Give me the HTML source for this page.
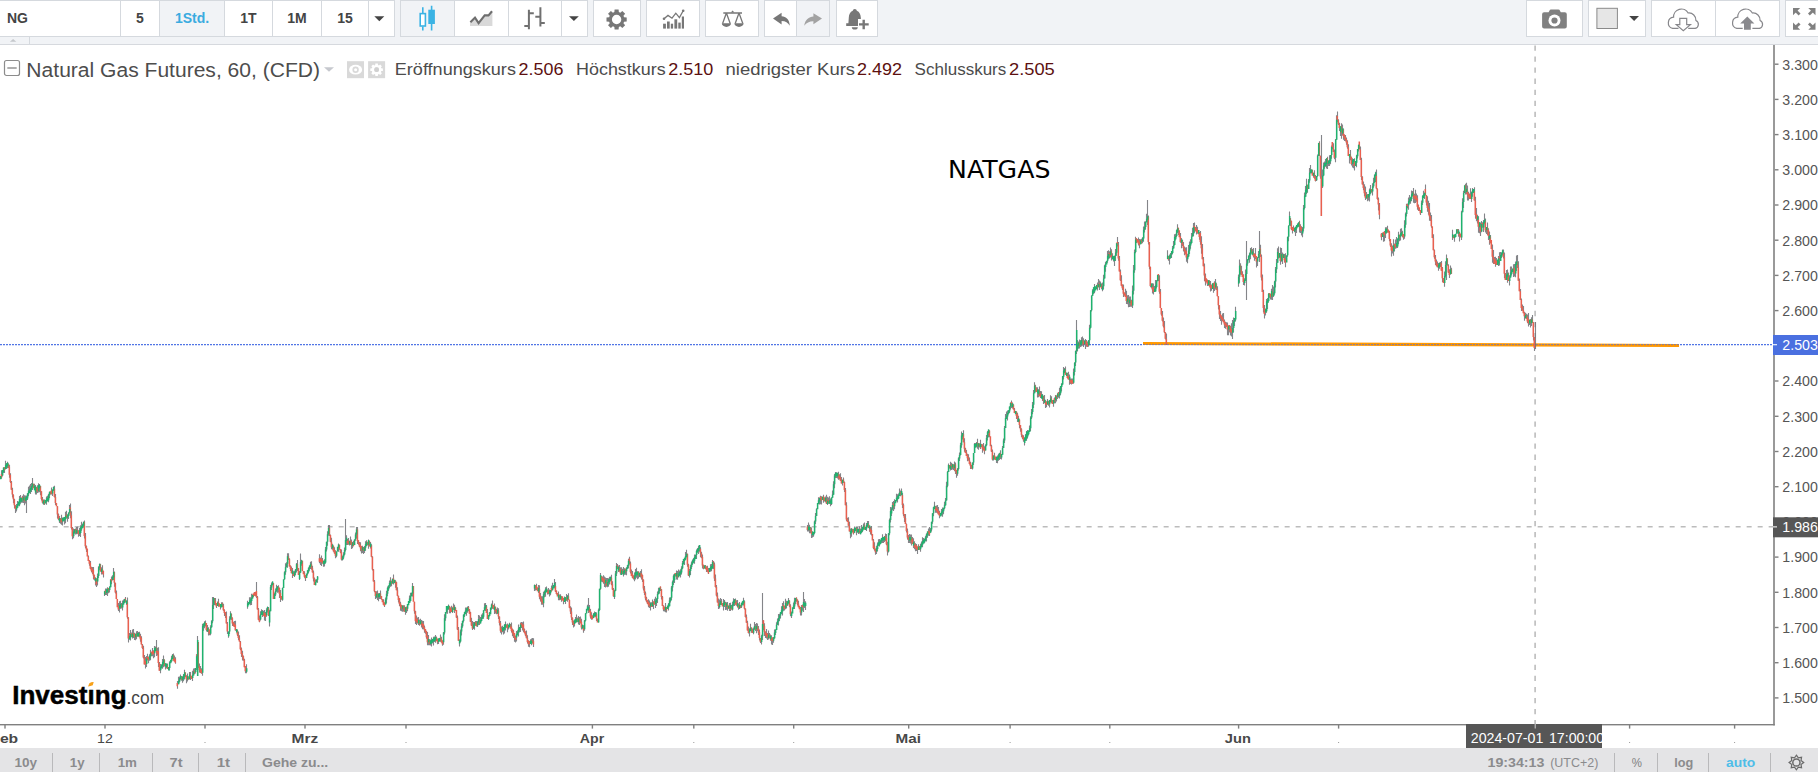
<!DOCTYPE html>
<html lang="de">
<head>
<meta charset="utf-8">
<title>NG – Natural Gas Futures</title>
<style>
*{box-sizing:border-box;margin:0;padding:0}
html,body{width:1818px;height:772px;overflow:hidden;background:#fff}
body{position:relative;font-family:"Liberation Sans",sans-serif;color:#555}
#tb{position:absolute;left:0;top:0;width:1818px;height:45px;background:#f1f3f6;border-bottom:1px solid #d6d9de}
.grp{position:absolute;top:0;height:37px;background:#fff;border:1px solid #d5d9de;}
.dv{position:absolute;top:0;width:1px;height:35px;background:#d5d9de}
.act{position:absolute;top:0;height:35px;background:#f1f3f6}
.tx{position:absolute;top:0;height:35px;line-height:35px;font-weight:bold;font-size:14px;color:#444;text-align:center}
#tab{position:absolute;left:0;top:37px;width:30px;height:8px;border-right:1px solid #d5d9de}
#bb{position:absolute;left:0;top:748px;width:1818px;height:24px;background:#e4e4e6}
.bt{position:absolute;top:0;height:24px;line-height:26px;font-weight:bold;font-size:13px;color:#8a8a8a;text-align:center}
.bs{position:absolute;top:5px;width:1px;height:19px;background:#b9b9bb}
svg{position:absolute;left:0;top:0}
</style>
</head>
<body>
<div id="tb">
  <div class="grp" style="left:-1px;width:396px">
    <div class="act" style="left:160px;width:64px"></div>
    <div class="dv" style="left:120px"></div><div class="dv" style="left:159px"></div><div class="dv" style="left:224px"></div><div class="dv" style="left:272px"></div><div class="dv" style="left:321px"></div><div class="dv" style="left:368px"></div>
    <div class="tx" style="left:7px;text-align:left">NG</div>
    <div class="tx" style="left:121px;width:38px">5</div>
    <div class="tx" style="left:160px;width:64px;color:#3aabe0">1Std.</div>
    <div class="tx" style="left:225px;width:47px">1T</div>
    <div class="tx" style="left:273px;width:48px">1M</div>
    <div class="tx" style="left:322px;width:46px">15</div>
  </div>
  <div class="grp" style="left:400px;width:188px">
    <div class="act" style="left:0;width:53px"></div>
    <div class="dv" style="left:53px"></div><div class="dv" style="left:107px"></div><div class="dv" style="left:160px"></div>
  </div>
  <div class="grp" style="left:593px;width:48px"></div>
  <div class="grp" style="left:646px;width:54px"></div>
  <div class="grp" style="left:705px;width:54px"></div>
  <div class="grp" style="left:764px;width:66px">
    <div class="act" style="left:32px;width:32px"></div>
    <div class="dv" style="left:31px"></div>
  </div>
  <div class="grp" style="left:836px;width:42px"></div>
  <div class="grp" style="left:1526px;width:57px"></div>
  <div class="grp" style="left:1588px;width:58px"></div>
  <div class="grp" style="left:1651px;width:129px">
    <div class="dv" style="left:63px"></div>
  </div>
  <div class="grp" style="left:1785px;width:40px"></div>
  <div id="tab"></div>
</div>

<div id="bb">
  <div class="bs" style="left:52px"></div><div class="bs" style="left:99px"></div><div class="bs" style="left:152px"></div><div class="bs" style="left:198px"></div><div class="bs" style="left:245px"></div>
  <div class="bs" style="left:1614px"></div><div class="bs" style="left:1657px"></div><div class="bs" style="left:1708px"></div><div class="bs" style="left:1770px"></div>
</div>

<svg width="1818" height="772" viewBox="0 0 1818 772">
<!-- ICONS -->
<path d="M374.3 16.3h10l-5 5z" fill="#444"/>
<path d="M569 16.2h9.8l-4.9 4.8z" fill="#444"/>
<path d="M1629.2 16.1h9.8l-4.9 4.9z" fill="#444"/>
<path d="M9.9 41.8h6.4l-3.2-2.9z" fill="#c5c8cc"/>
<g stroke="#3bb3e4" stroke-width="1.6" fill="none"><path d="M422.8 7.2V13.2M422.8 26.4V30.6M431.6 5.7V30.6"/><rect x="420.2" y="13.6" width="5.2" height="12.4" fill="#fff"/></g><rect x="428.3" y="9.7" width="6.6" height="14.3" fill="#3bb3e4"/>
<path d="M470 22.4L475 17.6L478.6 23.1L484.7 15.4H488.5L492.4 11V26H470z" fill="#d9d9d9"/><path d="M470.4 22.3L475 17.6L478.6 23.1L484.7 15.4H488.5L492 11.3" stroke="#6e6e6e" stroke-width="2.1" fill="none" stroke-linejoin="miter"/>
<path d="M528.9 9.7V29.2M524.3 25.9H528.9M528.9 13.2H533.8M540.4 7.2V26.6M535.3 16.8H540.4M540.4 23.1H544.8" stroke="#707070" stroke-width="2" fill="none"/>
<path d="M614.37 12.03L614.59 9.40L618.61 9.40L618.83 12.03L620.30 12.64L622.32 10.94L625.16 13.78L623.46 15.80L624.07 17.27L626.70 17.49L626.70 21.51L624.07 21.73L623.46 23.20L625.16 25.22L622.32 28.06L620.30 26.36L618.83 26.97L618.61 29.60L614.59 29.60L614.37 26.97L612.90 26.36L610.88 28.06L608.04 25.22L609.74 23.20L609.13 21.73L606.50 21.51L606.50 17.49L609.13 17.27L609.74 15.80L608.04 13.78L610.88 10.94L612.90 12.64ZM611.90 19.50a4.70 4.70 0 1 0 9.40 0a4.70 4.70 0 1 0 -9.40 0z" fill="#777" fill-rule="evenodd"/>
<g fill="#777"><rect x="663.1" y="23.7" width="2.8" height="4.9"/><rect x="667" y="21.5" width="2.7" height="7.1"/><rect x="670.8" y="23.7" width="2.3" height="4.9"/><rect x="674.4" y="19.3" width="2.8" height="9.3"/><rect x="678.3" y="22.6" width="2.4" height="6.0"/><rect x="681.8" y="16.5" width="2.2" height="12.1"/><circle cx="664" cy="18.7" r="1.3"/><circle cx="683.2" cy="10.8" r="1.3"/></g><path d="M664 18.7L668 15.4L672 18.2L675.8 13.2L679.4 17.6L683.2 10.8" stroke="#777" stroke-width="1.3" fill="none"/>
<g stroke="#777" stroke-width="1.3" fill="none"><path d="M723.3 13H742M726.4 13L722.6 23.5M726.4 13L730.2 23.5M739 13L735.2 23.5M739 13L742.8 23.5"/></g><path d="M730.8 12.4L732.6 10.6L734.4 12.4z" fill="#777"/><path d="M721.8 23.3h9.2a4.6 3.6 0 0 1 -9.2 0zM734.4 23.3h9.2a4.6 3.6 0 0 1 -9.2 0z" fill="#777"/>
<path d="M773 18.6L781.6 12.8V16.2C786 16.4 789.6 19.5 789.8 25.8C788 22.6 785.6 21.2 781.6 21.1V24.4z" fill="#777"/>
<path d="M822 18.6L813.4 13.2V16.4C809 16.6 805 19.5 804.2 25.8C806.4 22.6 809.2 21.3 813.4 21.2V24.2z" fill="#a3a3a3"/>
<path d="M854.8 9C856 9 856.6 9.8 856.8 10.8C859.6 11.8 860.6 14.6 860.8 17.5L861.2 23.3H863.4V26H846.2V23.3H848.4L848.8 17.5C849 14.6 850 11.8 852.8 10.8C853 9.8 853.6 9 854.8 9zM851.8 27.2H857.8A3 2.4 0 0 1 851.8 27.2z" fill="#777"/><path d="M858 19H869.6V29.8H858z" fill="#fff"/><path d="M863.7 19.8V29.3M859 24.4H868.7" stroke="#777" stroke-width="2.4"/>
<path d="M1544.1 12.2H1548.6L1550 9.8Q1550.3 9.4 1551 9.4H1558.4Q1559.1 9.4 1559.4 9.8L1560.8 12.2H1564.8Q1566.8 12.2 1566.8 14.2V26.5Q1566.8 28.5 1564.8 28.5H1544.1Q1542.1 28.5 1542.1 26.5V14.2Q1542.1 12.2 1544.1 12.2z" fill="#808080"/><circle cx="1554.5" cy="20.5" r="6" fill="#fff"/><circle cx="1554.5" cy="20.5" r="3.1" fill="#808080"/>
<rect x="1596.9" y="8.3" width="20.5" height="20.2" fill="#e6e6e6" stroke="#8a8a8a" stroke-width="1"/>
<g transform="translate(0,0)"><path d="M1678.5 28.4H1672.6A5.7 5.7 0 0 1 1673.6 17.2A7.8 7.8 0 0 1 1688.2 13A7 7 0 0 1 1695.9 20.5A4.2 4.2 0 0 1 1695.2 28.4H1688.2" fill="none" stroke="#87878b" stroke-width="1.2"/></g>
<path d="M1679.8 18.3H1686.7V24.7H1690.4L1683.3 30.6L1676.3 24.7H1679.8z" fill="#fff" stroke="#87878b" stroke-width="1.2"/>
<g transform="translate(64.2,0)"><path d="M1678.5 28.4H1672.6A5.7 5.7 0 0 1 1673.6 17.2A7.8 7.8 0 0 1 1688.2 13A7 7 0 0 1 1695.9 20.5A4.2 4.2 0 0 1 1695.2 28.4H1688.2" fill="none" stroke="#87878b" stroke-width="1.2"/></g>
<path d="M1747.3 16.6L1754.4 23.6H1750.8V29.7H1744V23.6H1740.2z" fill="#8a8a8e"/>
<path d="M1793 8L1800.2 8L1793 15.2z" fill="#808080"/><path d="M1795 10L1799.6 14.4" stroke="#808080" stroke-width="2.7"/>
<path d="M1815.5 8L1808.3 8L1815.5 15.2z" fill="#808080"/><path d="M1813.5 10L1808.9 14.4" stroke="#808080" stroke-width="2.7"/>
<path d="M1793 29.8L1800.2 29.8L1793 22.6z" fill="#808080"/><path d="M1795 27.8L1799.6 23.4" stroke="#808080" stroke-width="2.7"/>
<path d="M1815.5 29.8L1808.3 29.8L1815.5 22.6z" fill="#808080"/><path d="M1813.5 27.8L1808.9 23.4" stroke="#808080" stroke-width="2.7"/>
<path d="M1796.40 755.20L1798.31 757.88L1801.56 757.34L1801.02 760.59L1803.70 762.50L1801.02 764.41L1801.56 767.66L1798.31 767.12L1796.40 769.80L1794.49 767.12L1791.24 767.66L1791.78 764.41L1789.10 762.50L1791.78 760.59L1791.24 757.34L1794.49 757.88Z" fill="none" stroke="#6a6a6a" stroke-width="1.2" stroke-linejoin="miter"/><circle cx="1796.4" cy="762.5" r="3.6" fill="#e4e4e6" stroke="#6a6a6a" stroke-width="1.5"/>
<!-- CHART -->
<rect x="1773.2" y="45" width="1.6" height="680.4" fill="#808080"/>
<rect x="0" y="724" width="1774.8" height="1.4" fill="#808080"/>
<rect x="1774.8" y="63.5" width="3.7" height="1.4" fill="#808080"/>
<rect x="1774.8" y="98.7" width="3.7" height="1.4" fill="#808080"/>
<rect x="1774.8" y="133.9" width="3.7" height="1.4" fill="#808080"/>
<rect x="1774.8" y="169.1" width="3.7" height="1.4" fill="#808080"/>
<rect x="1774.8" y="204.3" width="3.7" height="1.4" fill="#808080"/>
<rect x="1774.8" y="239.5" width="3.7" height="1.4" fill="#808080"/>
<rect x="1774.8" y="274.7" width="3.7" height="1.4" fill="#808080"/>
<rect x="1774.8" y="309.9" width="3.7" height="1.4" fill="#808080"/>
<rect x="1774.8" y="345.1" width="3.7" height="1.4" fill="#808080"/>
<rect x="1774.8" y="380.3" width="3.7" height="1.4" fill="#808080"/>
<rect x="1774.8" y="415.6" width="3.7" height="1.4" fill="#808080"/>
<rect x="1774.8" y="450.8" width="3.7" height="1.4" fill="#808080"/>
<rect x="1774.8" y="486.0" width="3.7" height="1.4" fill="#808080"/>
<rect x="1774.8" y="521.2" width="3.7" height="1.4" fill="#808080"/>
<rect x="1774.8" y="556.4" width="3.7" height="1.4" fill="#808080"/>
<rect x="1774.8" y="591.6" width="3.7" height="1.4" fill="#808080"/>
<rect x="1774.8" y="626.8" width="3.7" height="1.4" fill="#808080"/>
<rect x="1774.8" y="662.0" width="3.7" height="1.4" fill="#808080"/>
<rect x="1774.8" y="697.2" width="3.7" height="1.4" fill="#808080"/>
<g font-family="Liberation Sans, sans-serif" font-size="14.2" fill="#555"><text x="1782.3" y="69.5">3.300</text><text x="1782.3" y="104.7">3.200</text><text x="1782.3" y="139.9">3.100</text><text x="1782.3" y="175.1">3.000</text><text x="1782.3" y="210.3">2.900</text><text x="1782.3" y="245.5">2.800</text><text x="1782.3" y="280.7">2.700</text><text x="1782.3" y="315.9">2.600</text><text x="1782.3" y="351.1">2.500</text><text x="1782.3" y="386.3">2.400</text><text x="1782.3" y="421.6">2.300</text><text x="1782.3" y="456.8">2.200</text><text x="1782.3" y="492.0">2.100</text><text x="1782.3" y="527.2">2.000</text><text x="1782.3" y="562.4">1.900</text><text x="1782.3" y="597.6">1.800</text><text x="1782.3" y="632.8">1.700</text><text x="1782.3" y="668.0">1.600</text><text x="1782.3" y="703.2">1.500</text></g>
<rect x="4.3" y="725" width="1.4" height="3.6" fill="#808080"/>
<rect x="104.3" y="725" width="1.4" height="3.6" fill="#808080"/>
<rect x="204.3" y="725" width="1.4" height="3.6" fill="#808080"/>
<rect x="304.3" y="725" width="1.4" height="3.6" fill="#808080"/>
<rect x="405.3" y="725" width="1.4" height="3.6" fill="#808080"/>
<rect x="591.7" y="725" width="1.4" height="3.6" fill="#808080"/>
<rect x="693.1" y="725" width="1.4" height="3.6" fill="#808080"/>
<rect x="793.0" y="725" width="1.4" height="3.6" fill="#808080"/>
<rect x="908.0" y="725" width="1.4" height="3.6" fill="#808080"/>
<rect x="1009.4" y="725" width="1.4" height="3.6" fill="#808080"/>
<rect x="1109.1" y="725" width="1.4" height="3.6" fill="#808080"/>
<rect x="1237.9" y="725" width="1.4" height="3.6" fill="#808080"/>
<rect x="1337.9" y="725" width="1.4" height="3.6" fill="#808080"/>
<rect x="1628.9" y="725" width="1.4" height="3.6" fill="#808080"/>
<rect x="1733.9" y="725" width="1.4" height="3.6" fill="#808080"/>
<rect x="204.5" y="742" width="1" height="1" fill="#999"/>
<rect x="405.5" y="742" width="1" height="1" fill="#999"/>
<rect x="693.3" y="742" width="1" height="1" fill="#999"/>
<rect x="793.2" y="742" width="1" height="1" fill="#999"/>
<rect x="1009.6" y="742" width="1" height="1" fill="#999"/>
<rect x="1109.3" y="742" width="1" height="1" fill="#999"/>
<rect x="1338.1" y="742" width="1" height="1" fill="#999"/>
<rect x="1629.1" y="742" width="1" height="1" fill="#999"/>
<rect x="1734.1" y="742" width="1" height="1" fill="#999"/>
<g font-family="Liberation Sans, sans-serif" font-size="13" fill="#484848"><text x="-9.7" y="743" font-weight="bold" textLength="27.9" lengthAdjust="spacingAndGlyphs">Feb</text><text x="97.0" y="743" textLength="15.8" lengthAdjust="spacingAndGlyphs">12</text><text x="291.6" y="743" font-weight="bold" textLength="26.6" lengthAdjust="spacingAndGlyphs">Mrz</text><text x="579.8" y="743" font-weight="bold" textLength="24.4" lengthAdjust="spacingAndGlyphs">Apr</text><text x="895.6" y="743" font-weight="bold" textLength="25.4" lengthAdjust="spacingAndGlyphs">Mai</text><text x="1224.8" y="743" font-weight="bold" textLength="26.1" lengthAdjust="spacingAndGlyphs">Jun</text></g>
<path d="M0 526.8H1773" stroke="#bcbcbc" stroke-width="1.4" stroke-dasharray="5 6" stroke-dashoffset="2.34"/>
<path d="M1535.1 45.4V724" stroke="#b8b8b8" stroke-width="1.5" stroke-dasharray="5.3 5.76"/>
<path d="M1143 343.5L1679 345.5" stroke="#ff9800" stroke-width="3.2"/>
<path d="M0 344.6H1143M1680 344.6H1773" stroke="#5075e5" stroke-width="1.1" stroke-dasharray="2 1"/>
<path d="M1143 344.6H1680" stroke="#5670d8" stroke-opacity="0.85" stroke-width="0.85" stroke-dasharray="2 1"/>
<g>
<path d="M1.5 470.3V478.7M2.5 469.9V476.4M3.5 467.4V473.0M4.5 467.2V473.1M5.5 460.7V469.4M6.5 463.2V468.9M7.5 461.8V468.2M8.5 463.7V468.1M9.5 464.8V477.7M10.5 473.2V482.9M11.5 480.9V489.7M12.5 487.7V497.5M13.5 494.5V503.3M14.5 498.8V508.3M15.5 505.3V513.1M16.5 504.0V511.4M17.5 500.9V507.8M19.5 496.0V506.3M20.5 495.1V503.8M21.5 497.8V502.8M22.5 495.8V502.7M23.5 494.2V503.1M24.5 495.3V505.2M25.5 495.6V503.5M26.5 495.5V500.9M27.5 493.1V500.1M28.5 486.8V496.2M29.5 485.5V492.9M30.5 484.1V494.0M31.5 483.1V492.0M32.5 482.4V489.8M34.5 483.7V490.3M35.5 485.0V494.5M36.5 486.9V494.4M37.5 485.2V493.1M38.5 483.3V492.4M39.5 483.9V492.3M40.5 485.9V495.3M41.5 491.3V500.5M42.5 497.0V503.6M43.5 499.4V504.8M44.5 499.5V504.9M46.5 496.4V504.8M47.5 495.8V501.2M48.5 493.7V502.2M49.5 491.8V498.2M51.5 487.6V494.5M52.5 489.4V495.9M53.5 486.5V490.9M54.5 485.7V497.4M55.5 493.9V504.9M57.5 506.3V518.5M58.5 513.5V520.2M59.5 516.0V522.9M60.5 518.3V523.7M61.5 514.8V524.7M62.5 517.6V525.5M63.5 517.2V521.3M64.5 517.0V524.4M65.5 511.8V523.3M66.5 510.8V518.2M67.5 514.4V521.8M68.5 512.4V519.0M69.5 505.0V513.4M70.5 503.5V518.3M71.5 511.3V529.4M72.5 526.9V539.2M73.5 528.4V538.2M74.5 529.2V533.8M75.5 528.6V534.5M76.5 526.9V534.3M77.5 526.8V533.7M78.5 530.3V536.7M79.5 528.1V535.9M80.5 525.2V537.1M81.5 521.8V530.7M82.5 523.5V527.9M83.5 521.4V527.2M84.5 520.4V538.5M85.5 533.0V548.2M86.5 545.6V552.0M88.5 555.6V561.1M89.5 560.3V565.7M90.5 560.9V569.2M91.5 566.8V572.2M92.5 567.0V574.0M93.5 566.9V579.4M94.5 574.7V580.4M95.5 577.2V585.6M96.5 578.4V586.9M97.5 573.6V585.4M98.5 566.3V578.1M99.5 563.6V570.0M100.5 563.7V571.4M101.5 567.2V574.6M102.5 565.3V574.2M103.5 570.7V577.4M104.5 591.2V596.1M105.5 588.6V595.0M106.5 588.5V594.9M107.5 587.2V596.1M108.5 588.3V593.2M109.5 586.6V592.5M110.5 579.2V587.2M111.5 576.4V584.3M112.5 575.2V580.6M113.5 568.1V580.0M114.5 571.6V586.7M115.5 582.7V593.4M116.5 590.4V599.1M118.5 603.1V611.0M119.5 601.2V612.6M120.5 600.8V608.7M121.5 603.1V608.6M122.5 600.5V610.6M123.5 599.6V604.5M124.5 599.1V603.0M125.5 597.1V602.5M126.5 600.5V604.9M127.5 597.4V618.7M128.5 617.2V642.5M129.5 633.0V639.4M130.5 630.0V640.4M131.5 632.6V637.0M132.5 629.5V638.4M133.5 629.0V637.9M134.5 632.7V640.1M135.5 633.8V640.2M136.5 631.3V639.2M137.5 631.1V636.5M138.5 632.1V636.5M139.5 631.8V637.3M140.5 633.8V641.7M141.5 636.2V644.5M142.5 644.0V648.9M143.5 645.8V658.6M144.5 655.1V664.6M145.5 657.1V668.6M146.5 656.1V666.9M147.5 653.8V660.2M148.5 656.4V663.3M149.5 654.2V660.7M150.5 649.8V660.2M151.5 651.9V656.3M152.5 647.9V656.3M153.5 650.3V658.2M154.5 646.0V657.2M155.5 646.5V650.9M156.5 645.0V656.1M157.5 647.7V655.6M158.5 647.3V667.0M159.5 662.0V670.7M160.5 664.0V673.3M161.5 664.5V668.4M162.5 659.1V668.8M163.5 655.6V667.2M164.5 659.6V666.4M165.5 663.2V669.6M166.5 663.4V668.3M167.5 663.6V669.0M169.5 661.3V670.5M171.5 655.8V662.2M172.5 653.9V659.1M173.5 653.4V660.5M174.5 655.6V661.5M175.5 657.3V663.7M177.5 680.9V688.8M178.5 676.8V684.2M179.5 676.6V682.5M180.5 674.4V679.3M181.5 675.9V680.8M182.5 676.3V682.7M183.5 673.9V681.3M184.5 669.8V679.5M186.5 675.3V683.2M187.5 673.5V681.4M189.5 672.1V679.2M190.5 672.0V679.9M192.5 670.7V681.1M193.5 668.6V675.6M194.5 668.2V674.1M195.5 667.9V673.5M196.5 654.2V669.9M197.5 652.5V659.4M199.5 663.4V672.6M200.5 666.1V673.0M201.5 668.3V673.7M202.5 623.7V675.7M203.5 623.4V630.8M204.5 621.3V628.2M205.5 620.5V626.4M206.5 622.9V631.6M207.5 625.0V631.9M208.5 627.2V635.6M209.5 629.4V635.2M210.5 625.2V635.2M211.5 620.2V627.7M212.5 604.1V623.2M213.5 597.0V609.1M214.5 598.0V605.3M215.5 597.9V605.3M216.5 603.0V607.9M217.5 601.5V606.0M218.5 598.8V606.7M220.5 604.1V609.5M221.5 602.3V607.2M222.5 602.3V606.7M223.5 603.7V610.8M224.5 609.5V615.9M225.5 612.1V618.1M226.5 611.6V623.5M227.5 622.0V634.1M228.5 631.5V637.7M229.5 616.3V634.0M230.5 611.3V619.8M231.5 613.8V620.0M232.5 617.5V626.0M233.5 621.8V626.2M234.5 621.0V626.9M235.5 620.7V630.8M237.5 629.7V636.1M238.5 631.5V639.9M239.5 635.2V641.4M240.5 640.9V650.2M241.5 647.6V656.9M242.5 650.7V660.6M243.5 655.5V660.8M244.5 658.8V667.2M245.5 666.0V673.2M246.5 664.3V673.2M247.5 600.8V608.7M249.5 597.2V604.1M250.5 597.3V605.2M251.5 593.7V605.1M252.5 594.6V598.5M254.5 591.9V595.8M255.5 591.9V596.3M256.5 589.5V597.6M257.5 596.1V609.5M258.5 608.0V620.2M259.5 615.4V622.3M260.5 611.2V620.4M261.5 609.3V614.7M262.5 610.0V616.9M263.5 610.8V615.7M264.5 610.1V620.5M265.5 612.1V621.0M266.5 608.2V616.7M267.5 606.5V612.4M268.5 606.9V616.1M269.5 609.8V626.5M270.5 585.1V611.3M271.5 582.6V590.0M272.5 581.6V585.5M274.5 592.6V598.9M275.5 588.5V595.9M276.5 584.8V591.8M277.5 585.9V592.8M278.5 585.2V592.6M279.5 587.7V597.9M280.5 590.0V602.1M282.5 587.6V600.8M284.5 571.2V579.7M285.5 563.2V574.7M286.5 562.2V567.2M287.5 553.2V567.7M288.5 553.2V560.1M289.5 558.3V566.5M290.5 565.6V571.0M291.5 566.4V573.2M292.5 568.0V577.9M293.5 571.2V576.0M294.5 570.8V577.0M295.5 569.1V575.0M296.5 563.1V572.3M297.5 560.1V571.1M299.5 570.9V580.0M300.5 561.5V572.9M301.5 559.8V565.7M304.5 571.3V577.7M305.5 575.2V581.1M307.5 570.2V575.6M308.5 567.3V573.2M309.5 565.4V570.8M310.5 561.7V569.1M311.5 561.3V569.8M312.5 565.8V572.4M313.5 570.4V581.4M314.5 577.4V585.0M315.5 579.4V585.3M317.5 575.9V582.8M319.5 554.3V563.2M320.5 557.6V565.0M321.5 555.6V566.0M322.5 558.0V563.4M323.5 560.8V566.7M324.5 559.2V566.6M325.5 547.0V563.5M326.5 541.7V551.5M327.5 531.3V545.7M328.5 525.1V535.8M329.5 525.1V536.0M330.5 534.5V542.3M331.5 537.8V549.2M332.5 543.8V549.7M333.5 545.7V551.8M334.5 547.3V553.7M335.5 550.2V558.3M336.5 551.4V557.3M338.5 543.4V551.8M339.5 544.7V549.7M340.5 548.9V553.3M341.5 549.5V560.4M342.5 555.5V560.4M343.5 552.2V559.1M344.5 547.4V555.4M345.5 539.5V551.4M346.5 535.2V545.1M347.5 539.0V544.9M348.5 538.1V544.5M349.5 540.7V545.6M350.5 536.6V545.0M351.5 539.6V549.0M352.5 541.9V548.3M353.5 540.8V546.2M355.5 532.6V540.8M356.5 527.1V538.6M357.5 527.1V544.0M358.5 540.3V544.7M359.5 542.1V547.0M360.5 542.3V551.2M361.5 546.0V553.4M362.5 545.7V553.1M363.5 547.1V554.0M364.5 545.9V552.9M365.5 541.3V550.7M366.5 540.3V546.2M368.5 539.6V548.7M370.5 542.1V548.5M371.5 544.3V557.3M372.5 556.3V570.6M373.5 569.1V581.4M374.5 579.9V592.3M375.5 591.3V599.1M376.5 591.3V598.2M377.5 590.6V600.0M378.5 593.3V601.2M379.5 593.1V599.0M380.5 590.5V598.9M381.5 595.9V599.8M383.5 599.3V604.7M384.5 602.5V606.9M385.5 597.4V604.5M386.5 590.8V603.4M387.5 586.5V596.3M388.5 585.4V590.9M389.5 580.4V588.3M390.5 577.3V586.7M391.5 580.8V586.2M392.5 578.5V583.5M393.5 574.5V584.4M395.5 580.4V587.8M396.5 581.7V590.2M397.5 587.2V596.2M398.5 595.7V602.5M399.5 598.2V606.1M400.5 601.8V610.7M401.5 604.8V611.2M402.5 605.4V611.8M403.5 605.5V611.5M404.5 605.2V611.8M405.5 607.0V614.8M406.5 606.7V613.1M407.5 604.0V611.3M409.5 595.6V603.1M410.5 592.7V601.5M411.5 592.4V596.3M412.5 583.0V596.5M414.5 601.8V613.7M415.5 610.7V624.0M416.5 615.6V625.0M417.5 617.6V623.5M418.5 617.0V624.9M419.5 619.4V625.8M420.5 618.8V624.2M421.5 620.1V627.6M422.5 620.8V629.2M423.5 621.0V629.2M424.5 625.4V632.8M425.5 628.9V633.8M426.5 630.7V638.8M427.5 632.0V645.2M428.5 634.9V645.3M429.5 639.3V645.2M430.5 639.6V645.5M431.5 637.5V646.4M432.5 638.9V643.3M433.5 636.7V645.6M434.5 636.5V641.9M435.5 634.9V642.8M436.5 636.5V641.0M437.5 638.8V644.2M438.5 638.6V644.0M440.5 634.4V641.8M441.5 636.7V642.6M442.5 640.3V645.7M443.5 632.1V644.7M444.5 614.3V634.6M445.5 611.9V620.8M446.5 606.0V613.4M447.5 606.3V613.7M448.5 604.4V609.8M449.5 605.9V613.3M450.5 607.4V613.2M451.5 605.7V612.1M452.5 607.5V613.0M453.5 603.4V609.8M454.5 604.7V613.1M455.5 607.2V611.1M456.5 610.1V618.0M457.5 615.5V630.0M458.5 627.0V640.8M459.5 639.2V646.6M460.5 629.4V642.5M461.5 623.3V635.4M462.5 620.5V627.8M463.5 614.6V622.5M464.5 611.7V617.1M465.5 607.5V613.9M466.5 607.4V615.8M467.5 606.4V612.8M468.5 605.9V611.3M469.5 608.9V613.8M470.5 611.8V621.8M471.5 617.8V626.1M472.5 621.1V630.0M473.5 622.0V628.9M474.5 621.9V629.8M475.5 621.0V625.4M476.5 621.1V626.5M477.5 621.1V627.1M478.5 615.1V625.0M479.5 615.4V624.9M480.5 617.0V623.4M481.5 614.5V621.6M482.5 613.3V618.7M483.5 610.2V618.8M484.5 603.2V610.6M485.5 603.1V611.0M486.5 605.0V612.9M487.5 608.9V618.9M488.5 615.1V619.9M489.5 612.0V616.4M491.5 603.6V609.7M492.5 600.4V608.8M493.5 605.1V609.2M494.5 603.6V614.0M495.5 606.7V613.5M496.5 608.8V614.2M497.5 607.6V614.0M498.5 608.2V619.1M499.5 616.6V625.6M500.5 621.1V632.7M501.5 626.5V634.4M502.5 625.8V632.2M503.5 627.1V634.5M504.5 624.0V633.4M505.5 621.6V630.5M507.5 623.4V632.3M508.5 624.7V629.6M509.5 622.7V627.1M510.5 623.9V628.6M511.5 622.5V632.4M512.5 628.5V636.2M513.5 629.8V638.0M514.5 632.9V641.7M515.5 635.6V642.5M516.5 631.1V641.5M517.5 630.3V635.2M518.5 624.6V636.5M519.5 626.9V632.3M520.5 622.5V631.9M521.5 622.1V628.0M522.5 622.2V630.6M523.5 621.6V631.9M524.5 628.6V633.5M525.5 631.3V636.2M526.5 630.4V638.3M527.5 635.3V643.5M528.5 640.3V646.7M529.5 640.9V647.3M530.5 639.2V644.1M531.5 638.4V645.3M532.5 637.9V643.3M533.5 638.2V647.1M534.5 584.5V590.9M535.5 585.1V590.5M536.5 583.7V590.1M538.5 585.0V592.9M539.5 585.3V599.2M540.5 593.0V601.6M541.5 596.3V604.7M542.5 596.3V604.7M543.5 591.8V607.2M544.5 590.4V597.3M545.5 587.3V596.7M546.5 586.6V592.0M547.5 589.7V594.6M548.5 587.9V594.3M549.5 589.6V596.5M550.5 589.9V595.3M551.5 585.6V591.5M552.5 582.8V590.2M554.5 579.0V588.2M555.5 581.9V592.1M556.5 590.6V594.5M558.5 591.4V600.3M559.5 594.8V600.2M560.5 594.3V599.7M561.5 596.2V601.7M563.5 597.9V604.3M564.5 596.6V602.0M565.5 597.3V604.0M566.5 594.0V600.4M567.5 594.9V601.8M568.5 593.3V600.0M569.5 599.5V608.3M570.5 606.3V614.1M571.5 607.6V619.9M572.5 617.4V624.9M573.5 620.5V627.4M574.5 619.5V626.5M575.5 617.0V623.1M576.5 614.5V622.5M577.5 617.4V622.3M578.5 616.1V624.5M579.5 617.0V624.9M580.5 616.5V623.4M581.5 618.8V629.4M582.5 624.6V628.5M583.5 625.3V632.7M584.5 619.9V630.7M585.5 613.1V621.4M587.5 604.7V610.6M588.5 606.6V613.0M589.5 605.1V612.5M590.5 609.0V618.4M591.5 612.3V619.7M592.5 615.6V619.5M593.5 613.0V618.0M594.5 611.4V616.8M595.5 612.1V617.0M596.5 612.4V621.1M598.5 608.5V622.6M599.5 588.8V611.0M600.5 573.0V589.8M601.5 575.9V581.8M602.5 576.4V582.3M603.5 575.3V583.7M604.5 576.6V587.0M605.5 577.5V587.4M606.5 577.9V586.7M607.5 578.1V587.2M608.5 578.3V586.7M609.5 576.7V584.6M610.5 576.6V581.0M611.5 574.7V585.3M612.5 581.3V589.9M613.5 587.9V596.7M614.5 589.7V599.0M615.5 570.9V591.2M616.5 563.0V575.9M617.5 564.1V569.0M618.5 565.6V572.0M619.5 564.9V571.4M620.5 567.3V574.7M621.5 567.3V575.0M622.5 568.8V574.0M623.5 567.0V576.4M624.5 568.3V574.7M625.5 568.8V574.7M626.5 567.3V575.2M627.5 564.8V568.7M628.5 558.7V568.2M629.5 556.7V564.5M630.5 561.5V573.4M631.5 569.4V576.0M632.5 571.1V578.0M633.5 575.5V579.4M634.5 572.4V581.3M635.5 569.1V579.6M636.5 567.8V577.7M637.5 571.4V579.2M638.5 571.4V578.6M639.5 572.6V577.0M640.5 571.1V577.5M641.5 569.2V579.6M642.5 574.6V582.0M643.5 579.5V590.4M644.5 585.9V594.9M645.5 591.4V600.2M646.5 596.8V602.2M647.5 600.2V604.1M648.5 599.3V607.2M649.5 600.6V608.0M650.5 602.2V610.6M651.5 602.2V607.1M652.5 599.6V607.0M653.5 601.5V608.9M654.5 598.7V604.6M655.5 596.7V608.1M656.5 598.6V606.0M657.5 591.4V602.9M658.5 587.8V594.2M659.5 587.7V593.6M660.5 586.5V590.9M661.5 589.0V599.4M662.5 595.9V605.9M663.5 605.2V611.2M664.5 606.7V611.6M665.5 602.9V612.3M666.5 607.0V612.4M668.5 603.0V610.4M669.5 597.6V606.2M670.5 597.5V602.4M671.5 585.9V600.3M672.5 580.6V591.4M673.5 574.5V585.1M674.5 573.6V582.9M676.5 570.6V579.5M677.5 570.9V579.8M678.5 569.4V577.2M679.5 570.5V575.9M680.5 569.2V577.6M681.5 566.3V574.5M682.5 561.0V569.3M683.5 559.0V564.4M684.5 557.7V565.1M685.5 552.0V559.9M686.5 549.7V557.2M687.5 553.7V566.8M688.5 563.8V576.1M689.5 568.9V577.6M690.5 564.8V574.9M691.5 561.5V568.9M692.5 559.6V565.0M693.5 558.0V562.8M694.5 554.5V563.8M695.5 554.5V559.0M696.5 549.4V559.0M697.5 548.0V552.4M698.5 545.7V554.1M699.5 545.0V551.7M700.5 547.2V557.3M701.5 551.8V558.2M702.5 554.4V568.6M703.5 564.8V569.2M705.5 565.0V569.1M706.5 566.5V572.0M707.5 565.7V571.7M708.5 568.0V573.9M710.5 564.2V571.6M711.5 563.9V571.3M712.5 560.0V568.7M713.5 561.1V569.0M714.5 562.6V581.1M715.5 574.6V587.6M716.5 585.1V596.4M717.5 592.4V602.4M718.5 598.4V608.9M719.5 599.5V608.4M720.5 598.1V604.7M721.5 599.1V605.0M723.5 599.1V610.5M724.5 600.0V606.9M725.5 602.0V610.0M726.5 602.3V609.7M727.5 602.0V610.8M729.5 603.0V610.9M730.5 602.7V611.1M731.5 604.9V609.5M732.5 601.8V610.5M733.5 598.3V606.2M734.5 599.1V606.0M735.5 598.6V604.8M736.5 600.2V605.6M737.5 600.0V607.4M738.5 603.4V609.8M739.5 602.0V608.9M741.5 602.6V608.0M742.5 601.3V605.2M743.5 597.7V605.6M744.5 600.5V609.4M745.5 608.4V617.4M746.5 614.4V622.7M747.5 620.7V630.5M748.5 626.6V633.5M749.5 628.2V636.6M750.5 623.7V631.1M751.5 627.4V632.8M752.5 628.5V632.9M753.5 627.4V634.3M754.5 621.9V629.6M755.5 623.9V630.9M756.5 622.9V633.3M757.5 623.5V631.1M758.5 626.0V634.9M759.5 629.5V640.5M760.5 638.0V643.0M761.5 634.7V644.5M763.5 620.3V630.2M764.5 623.2V635.9M765.5 631.5V637.9M766.5 629.0V638.4M767.5 633.0V640.0M768.5 630.6V639.5M769.5 632.9V638.3M770.5 634.4V640.8M771.5 635.2V644.6M772.5 637.5V644.9M773.5 636.9V642.8M774.5 629.5V638.7M775.5 629.6V635.0M776.5 622.3V630.0M777.5 618.6V624.8M778.5 614.0V625.4M779.5 613.7V621.1M780.5 612.1V618.5M781.5 606.2V614.1M782.5 603.0V615.6M783.5 601.3V610.7M784.5 605.7V610.6M785.5 598.7V609.3M786.5 600.7V608.6M787.5 601.2V605.9M788.5 598.1V603.5M789.5 600.6V607.3M790.5 604.3V616.3M791.5 611.5V617.9M793.5 602.6V609.0M794.5 597.8V609.1M795.5 597.9V604.3M796.5 597.4V601.8M797.5 599.6V605.5M798.5 600.8V607.2M800.5 606.9V615.4M801.5 605.1V615.4M802.5 604.4V610.8M803.5 600.0V607.4M804.5 599.0V607.9M805.5 601.2V610.1M807.5 525.1V531.5M808.5 522.6V531.5M809.5 524.8V533.2M810.5 527.1V533.0M811.5 527.5V537.9M812.5 531.5V537.4M813.5 531.9V536.8M814.5 520.5V533.9M815.5 512.9V524.0M816.5 508.3V515.9M818.5 497.3V504.2M819.5 497.5V504.4M820.5 495.8V504.2M821.5 496.2V504.6M823.5 494.8V502.7M824.5 497.6V501.5M825.5 496.4V502.3M826.5 494.7V503.9M827.5 496.7V505.1M828.5 497.5V503.4M829.5 496.3V503.7M830.5 498.4V506.3M831.5 497.4V505.0M832.5 490.4V497.8M833.5 481.3V494.8M834.5 474.1V488.3M835.5 472.1V478.0M836.5 472.6V478.0M837.5 472.7V478.6M838.5 471.8V479.8M839.5 474.3V479.2M840.5 473.3V480.7M841.5 477.0V483.4M842.5 479.7V485.6M843.5 477.4V482.8M844.5 481.6V492.0M845.5 488.0V505.2M846.5 502.2V521.0M847.5 517.7V522.1M848.5 517.3V525.7M849.5 521.7V531.6M850.5 528.4V538.3M851.5 528.1V536.7M853.5 529.0V534.4M854.5 526.6V532.8M856.5 526.9V535.3M857.5 527.0V532.4M858.5 528.6V534.0M859.5 526.5V533.5M860.5 528.4V534.3M861.5 524.9V533.0M862.5 526.8V532.0M863.5 523.6V529.5M864.5 522.6V529.5M866.5 523.1V531.0M867.5 521.1V527.0M868.5 520.9V527.9M869.5 525.4V531.8M870.5 527.0V534.5M871.5 526.0V535.4M873.5 539.1V548.9M874.5 542.2V550.8M875.5 548.8V554.7M876.5 545.7V554.1M877.5 542.6V551.4M878.5 539.3V545.7M879.5 539.1V546.5M880.5 539.4V544.1M881.5 538.0V542.9M882.5 534.2V543.1M883.5 537.0V542.9M884.5 536.0V541.9M885.5 533.6V541.0M886.5 534.0V545.3M887.5 541.8V555.6M888.5 533.3V552.6M889.5 518.4V535.3M890.5 507.0V522.4M891.5 507.2V515.9M892.5 502.0V510.2M893.5 501.1V511.0M894.5 499.2V509.3M896.5 493.7V501.6M897.5 494.2V502.6M898.5 493.6V499.1M899.5 488.6V496.0M900.5 490.4V496.3M901.5 488.5V495.2M902.5 492.7V508.0M903.5 503.5V516.2M904.5 514.0V521.9M905.5 513.9V524.1M906.5 523.6V532.5M907.5 528.5V539.5M908.5 534.9V542.9M909.5 534.1V543.0M910.5 534.6V543.5M911.5 534.5V545.4M912.5 536.9V544.0M913.5 538.2V548.1M914.5 541.3V549.2M915.5 543.3V551.2M916.5 544.1V551.0M917.5 546.5V553.9M918.5 544.2V550.1M919.5 545.9V549.8M920.5 543.8V551.7M921.5 541.6V547.5M922.5 537.3V547.2M923.5 538.0V543.4M924.5 538.8V543.2M925.5 535.8V541.2M926.5 533.2V541.6M927.5 531.4V537.7M928.5 528.4V535.8M929.5 527.0V535.9M930.5 527.9V532.8M931.5 521.8V531.5M932.5 513.3V523.8M933.5 506.8V516.3M934.5 501.7V509.1M935.5 506.3V512.7M936.5 505.4V512.8M937.5 505.0V513.4M938.5 507.0V514.4M939.5 510.8V518.2M941.5 508.9V515.8M942.5 507.4V516.8M943.5 507.8V514.2M944.5 501.8V509.2M945.5 498.1V505.8M946.5 481.7V500.6M947.5 471.1V487.2M948.5 463.4V472.1M950.5 461.7V470.6M951.5 462.7V470.1M952.5 463.7V469.6M953.5 464.6V470.0M954.5 461.5V471.3M955.5 462.5V474.0M956.5 470.1V477.8M957.5 467.9V475.8M958.5 457.3V470.4M959.5 452.5V460.9M960.5 442.7V455.6M961.5 431.6V447.7M962.5 433.1V439.5M963.5 430.3V442.3M964.5 438.3V451.7M965.5 447.7V452.9M966.5 450.1V456.0M967.5 453.8V461.2M968.5 454.2V460.6M969.5 457.6V464.5M970.5 461.7V469.1M971.5 464.8V468.7M972.5 462.4V469.5M973.5 452.9V464.9M974.5 443.0V452.9M975.5 443.1V447.5M976.5 441.9V447.3M977.5 438.8V448.7M978.5 443.3V449.7M979.5 443.5V447.4M980.5 439.7V449.1M982.5 444.5V452.8M983.5 442.9V450.3M984.5 446.3V454.2M985.5 444.2V450.5M986.5 435.1V446.2M987.5 430.9V440.6M988.5 429.5V436.9M989.5 430.6V437.3M991.5 444.8V451.9M992.5 449.4V460.4M993.5 455.4V460.4M994.5 452.7V459.6M996.5 456.6V463.0M997.5 455.4V463.3M998.5 453.7V460.7M999.5 452.7V460.0M1000.5 450.2V459.0M1001.5 454.1V459.5M1002.5 445.9V454.8M1003.5 438.4V447.9M1004.5 426.0V442.9M1005.5 414.1V428.0M1006.5 411.5V418.9M1007.5 410.5V420.6M1008.5 410.2V414.6M1009.5 406.5V412.9M1010.5 402.5V409.6M1011.5 400.4V407.9M1012.5 402.4V408.4M1013.5 404.3V409.5M1014.5 407.9V412.9M1016.5 411.6V419.1M1017.5 412.8V422.1M1018.5 415.7V422.2M1019.5 419.5V428.0M1020.5 424.9V431.8M1021.5 428.2V436.9M1022.5 434.7V439.1M1023.5 435.2V441.8M1024.5 437.6V445.6M1025.5 434.1V440.8M1026.5 431.0V440.7M1027.5 430.0V438.5M1028.5 430.6V435.3M1029.5 425.6V432.0M1030.5 416.3V430.9M1031.5 408.9V419.0M1032.5 402.0V414.2M1033.5 390.0V407.9M1034.5 382.2V393.2M1035.5 384.8V391.8M1036.5 387.2V392.0M1037.5 387.3V397.5M1038.5 389.3V397.2M1039.5 386.4V395.8M1040.5 391.1V398.1M1041.5 391.2V398.7M1042.5 394.1V401.0M1043.5 396.1V403.9M1044.5 395.0V402.8M1045.5 400.3V408.1M1046.5 401.2V407.3M1047.5 399.0V404.6M1048.5 400.7V405.7M1049.5 400.0V407.5M1050.5 395.3V402.6M1051.5 396.3V403.0M1052.5 400.1V404.0M1053.5 400.0V406.7M1054.5 397.5V403.2M1055.5 394.9V403.3M1056.5 395.5V401.6M1057.5 393.4V399.0M1058.5 392.0V397.7M1059.5 387.8V398.5M1060.5 386.1V394.9M1061.5 383.2V391.6M1062.5 376.1V385.2M1063.5 367.0V379.6M1064.5 367.9V373.0M1065.5 366.6V374.8M1067.5 373.0V378.4M1068.5 371.7V379.6M1069.5 374.5V384.7M1070.5 378.8V383.9M1071.5 378.4V384.6M1072.5 378.6V383.7M1073.5 368.6V383.8M1074.5 362.5V375.5M1075.5 350.4V365.9M1076.5 343.8V353.9M1077.5 340.1V351.6M1078.5 341.5V348.4M1079.5 339.4V348.5M1080.5 340.1V347.0M1081.5 337.2V346.6M1082.5 336.5V345.7M1083.5 338.3V346.9M1084.5 340.6V344.6M1085.5 339.0V348.9M1086.5 339.9V346.8M1087.5 341.4V347.1M1088.5 340.2V346.7M1089.5 324.8V344.9M1090.5 310.3V328.4M1091.5 295.2V311.5M1092.5 289.2V295.7M1093.5 287.2V293.9M1094.5 283.9V293.3M1097.5 282.4V290.6M1098.5 279.1V287.3M1099.5 280.5V289.9M1100.5 281.6V286.8M1101.5 283.5V289.3M1102.5 282.6V291.2M1103.5 274.7V289.2M1104.5 264.8V278.4M1105.5 261.7V271.8M1107.5 250.9V262.7M1108.5 250.2V259.3M1109.5 251.3V258.4M1110.5 247.5V257.6M1111.5 249.3V260.4M1112.5 253.3V259.2M1113.5 256.1V261.4M1114.5 255.8V265.9M1115.5 248.9V260.9M1116.5 243.2V255.8M1117.5 236.9V246.5M1118.5 242.0V260.8M1119.5 255.9V271.5M1120.5 269.6V280.9M1121.5 275.3V286.3M1122.5 284.6V290.0M1123.5 284.5V296.9M1125.5 288.7V297.1M1126.5 290.7V304.1M1127.5 295.3V304.3M1128.5 295.0V307.2M1129.5 296.6V307.0M1130.5 296.4V306.8M1131.5 299.8V306.7M1132.5 285.6V308.0M1133.5 265.1V294.4M1134.5 249.5V272.7M1135.5 236.8V253.3M1136.5 238.3V243.0M1138.5 237.5V245.4M1139.5 239.1V248.2M1140.5 239.2V244.3M1141.5 238.8V243.5M1142.5 237.2V243.2M1143.5 226.5V241.8M1144.5 221.5V232.6M1145.5 221.3V229.6M1146.5 213.7V222.2M1147.5 212.4V222.3M1148.5 215.6V244.6M1149.5 242.0V269.3M1150.5 266.7V287.2M1151.5 283.5V288.2M1152.5 283.2V293.5M1153.5 283.6V294.5M1154.5 286.1V292.1M1155.5 280.0V291.5M1156.5 279.9V288.4M1158.5 274.0V281.1M1159.5 275.2V293.8M1160.5 289.1V308.1M1161.5 308.1V315.7M1162.5 311.1V321.4M1163.5 317.5V327.6M1164.5 321.0V333.0M1165.5 332.3V339.5M1166.5 333.5V345.0M1167.5 250.2V259.0M1168.5 256.0V260.7M1169.5 254.4V264.5M1170.5 253.1V258.5M1171.5 251.0V257.9M1172.5 245.9V254.3M1173.5 240.9V248.4M1174.5 234.2V245.6M1175.5 233.7V240.5M1176.5 229.6V237.2M1177.5 224.3V233.1M1178.5 227.7V235.1M1180.5 232.9V242.8M1181.5 238.1V248.3M1182.5 239.7V246.0M1183.5 241.9V251.5M1184.5 246.4V255.2M1185.5 247.6V254.2M1186.5 247.2V261.7M1187.5 253.7V263.3M1188.5 245.0V257.2M1189.5 241.6V254.0M1190.5 239.2V248.8M1191.5 233.0V243.7M1192.5 227.7V236.6M1193.5 222.9V236.2M1194.5 222.5V232.8M1195.5 227.0V231.0M1196.5 225.0V234.6M1197.5 226.8V233.7M1198.5 230.1V234.2M1199.5 232.0V239.7M1200.5 230.9V244.8M1201.5 236.3V253.8M1202.5 244.0V259.3M1203.5 257.1V266.3M1204.5 263.4V281.3M1205.5 273.5V285.5M1207.5 279.5V285.9M1208.5 280.2V285.7M1209.5 280.5V286.7M1210.5 281.1V291.6M1211.5 284.4V290.7M1213.5 283.2V292.8M1214.5 281.2V290.9M1215.5 279.1V289.6M1216.5 283.5V289.9M1217.5 286.3V296.2M1218.5 296.2V309.5M1219.5 305.2V318.9M1220.5 311.0V320.9M1221.5 315.5V324.7M1222.5 313.4V321.1M1223.5 313.1V322.3M1224.5 319.6V328.0M1225.5 321.7V328.7M1226.5 322.2V327.1M1227.5 322.5V335.3M1228.5 325.2V335.3M1229.5 324.9V332.6M1230.5 325.7V335.5M1231.5 323.2V336.4M1232.5 327.4V332.7M1233.5 317.5V332.5M1234.5 318.1V325.9M1235.5 306.7V321.6M1238.5 274.6V286.7M1239.5 259.6V282.7M1240.5 263.3V274.6M1241.5 265.8V274.7M1242.5 271.3V276.9M1243.5 274.2V285.1M1244.5 278.2V285.4M1245.5 269.5V280.7M1246.5 263.5V275.5M1247.5 259.3V265.8M1248.5 255.3V260.2M1249.5 252.6V262.8M1250.5 247.9V259.3M1251.5 247.2V253.6M1252.5 249.1V254.8M1253.5 248.0V257.4M1254.5 253.6V260.7M1255.5 248.1V259.0M1256.5 255.9V267.5M1257.5 257.1V266.0M1258.5 250.9V257.8M1259.5 246.3V254.6M1260.5 244.8V256.7M1261.5 254.5V280.4M1262.5 274.4V292.0M1263.5 289.7V312.4M1264.5 304.9V318.6M1265.5 308.5V315.6M1266.5 299.0V312.8M1267.5 298.1V309.0M1268.5 293.5V302.5M1269.5 292.9V297.8M1270.5 293.8V299.5M1271.5 288.7V299.7M1272.5 285.0V299.9M1273.5 286.6V296.9M1274.5 280.8V294.8M1275.5 267.0V287.5M1276.5 258.9V273.0M1277.5 248.2V262.7M1278.5 246.5V258.5M1280.5 247.5V264.7M1281.5 248.0V261.7M1282.5 252.4V264.0M1283.5 253.8V257.9M1284.5 254.1V262.4M1285.5 253.3V267.2M1287.5 236.7V256.7M1288.5 225.6V241.2M1289.5 211.5V225.6M1290.5 218.2V226.1M1291.5 220.8V230.0M1292.5 227.0V233.4M1293.5 225.5V231.1M1294.5 227.4V232.3M1295.5 226.7V236.1M1296.5 225.0V232.9M1297.5 223.2V227.3M1299.5 220.8V232.4M1300.5 224.3V232.9M1301.5 226.2V235.6M1302.5 227.1V237.3M1303.5 205.0V231.6M1304.5 192.6V209.5M1305.5 186.1V196.8M1306.5 178.7V194.0M1307.5 184.7V192.7M1308.5 179.1V188.9M1309.5 168.1V182.8M1310.5 164.9V173.5M1311.5 169.4V173.6M1313.5 172.7V177.6M1314.5 170.2V178.7M1315.5 175.0V181.4M1316.5 176.0V181.0M1317.5 154.5V176.8M1319.5 141.2V155.7M1320.5 155.7V178.7M1321.5 170.4V194.5M1322.5 169.6V187.9M1323.5 162.4V176.3M1324.5 161.6V168.8M1325.5 158.9V166.8M1326.5 158.3V168.5M1327.5 156.8V169.1M1328.5 160.4V166.0M1329.5 155.2V166.1M1330.5 155.0V164.2M1331.5 145.6V158.7M1332.5 142.0V149.3M1333.5 143.2V151.9M1334.5 149.6V159.2M1335.5 138.9V162.2M1336.5 115.3V139.7M1337.5 111.5V122.3M1338.5 119.3V124.9M1339.5 122.7V130.9M1340.5 126.2V135.9M1341.5 123.2V138.8M1342.5 124.6V135.6M1343.5 128.6V139.8M1344.5 134.6V141.0M1345.5 134.9V141.3M1346.5 137.5V144.7M1347.5 140.3V148.8M1348.5 144.2V155.9M1349.5 154.1V163.5M1350.5 149.9V160.3M1351.5 156.7V165.4M1352.5 158.2V167.6M1353.5 158.9V168.3M1354.5 158.3V170.4M1356.5 154.8V167.3M1357.5 149.1V158.5M1358.5 144.8V151.4M1360.5 146.5V159.9M1361.5 157.7V180.1M1362.5 176.3V184.6M1363.5 181.6V190.3M1364.5 184.3V196.2M1365.5 186.6V200.0M1366.5 192.0V198.4M1367.5 194.1V201.2M1368.5 194.1V200.5M1369.5 188.4V201.5M1370.5 185.1V194.1M1372.5 183.2V195.4M1373.5 177.8V187.7M1374.5 174.2V183.1M1375.5 171.8V181.9M1376.5 169.4V189.2M1377.5 188.4V199.8M1378.5 197.5V210.5M1379.5 203.0V219.3M1381.5 233.1V240.2M1382.5 232.8V237.0M1383.5 232.3V241.7M1384.5 231.1V241.2M1385.5 227.2V238.0M1386.5 227.2V233.4M1387.5 225.7V232.3M1389.5 230.7V241.3M1390.5 239.1V246.9M1391.5 243.2V256.6M1392.5 245.5V253.5M1393.5 239.3V255.8M1394.5 243.6V251.5M1395.5 239.4V248.8M1396.5 237.0V248.3M1397.5 238.5V247.9M1398.5 231.8V244.3M1399.5 234.8V241.2M1400.5 228.8V240.4M1401.5 228.2V236.1M1402.5 230.7V237.3M1403.5 234.1V239.7M1404.5 220.3V238.7M1405.5 212.6V227.8M1406.5 203.7V216.4M1407.5 203.4V208.3M1408.5 197.6V209.8M1409.5 195.0V203.7M1410.5 196.7V203.8M1411.5 190.6V201.3M1412.5 190.9V196.6M1413.5 188.0V202.8M1414.5 193.8V203.2M1415.5 189.7V202.9M1416.5 193.5V201.8M1417.5 195.3V209.7M1418.5 204.5V210.9M1420.5 210.0V214.9M1421.5 200.5V213.0M1422.5 195.6V205.0M1423.5 190.8V198.0M1424.5 192.7V199.1M1425.5 184.5V194.9M1426.5 194.9V205.6M1427.5 196.3V211.7M1428.5 200.8V214.7M1429.5 203.0V220.7M1430.5 212.4V221.0M1431.5 215.0V227.8M1433.5 234.2V250.3M1434.5 249.5V258.7M1435.5 255.0V265.1M1436.5 259.5V266.2M1437.5 261.6V267.3M1438.5 262.9V270.8M1439.5 262.7V268.8M1440.5 261.9V267.0M1441.5 261.1V270.7M1442.5 267.0V282.0M1444.5 271.5V286.7M1445.5 261.2V277.5M1446.5 254.5V268.7M1448.5 264.3V273.1M1449.5 269.3V277.9M1450.5 265.6V274.8M1451.5 267.8V273.8M1452.5 229.7V239.9M1454.5 234.6V241.8M1457.5 229.2V233.4M1458.5 228.9V236.8M1459.5 232.0V241.4M1461.5 210.8V239.9M1462.5 198.2V212.3M1463.5 190.7V208.0M1465.5 183.8V194.4M1466.5 182.7V194.3M1467.5 185.6V200.5M1468.5 191.8V200.5M1469.5 193.4V199.0M1470.5 188.2V198.9M1471.5 191.4V201.9M1472.5 188.1V196.7M1473.5 189.0V193.1M1474.5 187.2V200.4M1475.5 196.7V218.6M1476.5 208.0V221.2M1477.5 214.8V223.4M1478.5 216.2V232.7M1479.5 222.2V233.3M1480.5 222.8V235.9M1481.5 221.0V232.2M1482.5 222.2V227.4M1483.5 219.9V231.9M1484.5 213.4V224.3M1485.5 218.6V232.5M1486.5 226.9V234.1M1487.5 222.5V234.9M1488.5 228.2V239.9M1489.5 231.6V244.8M1490.5 234.9V243.2M1492.5 244.4V262.8M1493.5 250.1V264.0M1494.5 257.1V264.0M1495.5 256.7V266.8M1496.5 258.1V264.9M1498.5 255.9V265.9M1499.5 252.2V265.5M1500.5 251.9V261.0M1501.5 252.6V258.0M1502.5 249.5V255.2M1503.5 249.6V258.4M1504.5 252.4V278.3M1505.5 273.1V279.9M1506.5 270.1V279.9M1507.5 269.5V282.8M1508.5 272.5V280.9M1509.5 275.2V285.4M1510.5 266.5V277.4M1511.5 266.4V275.4M1513.5 264.3V276.9M1514.5 264.1V276.4M1515.5 261.5V277.2M1516.5 255.6V271.0M1517.5 258.2V267.2M1518.5 261.2V280.7M1519.5 278.4V291.3M1520.5 289.0V300.0M1521.5 298.5V311.1M1522.5 304.4V310.5M1523.5 306.0V313.2M1524.5 311.7V320.8M1525.5 312.7V318.3M1526.5 313.8V318.7M1527.5 314.6V323.1M1528.5 313.0V326.6M1529.5 319.8V325.1M1530.5 318.9V327.6M1531.5 317.3V326.0M1532.5 315.1V323.0M1533.5 322.2V340.6M1534.5 336.9V351.1M345.5 519.0V540.0M300.5 553.6V570.0M762.5 593.0V640.0M803.5 592.0V612.0M1076.5 320.0V350.0M1147.5 200.0V225.0M1246.5 241.0V300.0M1259.5 231.0V262.0M1321.5 135.0V216.0M1232.5 320.0V339.0M197.5 636.0V676.0M32.5 478.0V490.0M26.5 497.0V513.0M156.5 640.0V655.0M212.5 597.0V605.0M256.5 582.0V598.0M588.5 598.0V612.0M1517.5 255.0V268.0M1446.5 255.0V280.0M1535.5 322.0V349.0" stroke="#6f7074" stroke-width="1.1" stroke-opacity="0.85" fill="none"/>
<path d="M1.4 474.3V477.7M4.3 467.2V470.6M8.3 463.7V467.1M9.3 466.8V474.7M10.3 474.7V481.9M11.3 481.9V489.7M12.3 489.7V494.5M13.3 494.5V499.3M14.3 499.3V505.3M15.3 505.3V509.1M22.4 496.8V500.2M24.4 497.8V501.2M33.4 483.7V488.2M36.4 486.9V491.4M37.4 488.2V491.6M40.4 485.9V491.3M41.4 491.3V499.0M42.4 499.0V502.6M44.4 500.5V503.9M50.4 491.2V494.6M51.4 490.6V494.0M54.4 488.7V496.9M55.4 496.9V502.9M56.4 502.9V506.3M57.4 506.3V514.5M58.4 514.5V519.2M60.4 518.3V521.7M61.4 518.8V522.2M66.3 514.8V518.2M70.3 507.5V515.3M71.3 515.3V527.9M72.3 527.9V536.2M75.3 529.1V532.5M77.3 529.8V533.2M78.3 530.8V534.2M84.3 521.9V536.0M85.3 536.0V546.2M86.3 546.1V549.5M87.3 548.6V556.6M88.3 556.6V561.1M89.3 560.3V563.7M90.3 562.4V568.7M91.3 567.3V570.7M92.3 568.5V572.5M93.3 569.9V575.4M94.3 574.7V578.9M96.3 578.4V584.4M100.3 564.2V571.4M102.3 569.3V572.7M103.3 570.7V574.4M105.3 590.6V594.0M108.3 588.3V591.7M111.3 578.9V582.3M114.3 572.1V582.7M115.3 582.7V592.4M116.3 592.4V599.1M117.3 599.1V607.2M118.3 606.1V609.5M121.3 604.1V607.6M125.3 598.6V602.0M127.3 601.4V617.2M128.3 617.2V638.5M131.3 633.6V637.0M133.3 633.0V636.4M134.3 633.7V637.1M136.3 633.8V637.2M139.3 633.8V637.3M140.3 635.8V639.2M141.3 637.7V644.5M142.3 644.5V647.9M143.3 647.8V657.6M144.3 657.6V664.6M145.3 661.1V664.6M147.3 656.8V660.2M148.3 656.9V660.3M151.3 651.9V655.3M152.3 650.9V654.3M153.3 650.8V654.2M156.3 647.5V652.1M157.3 650.7V654.1M158.3 651.3V663.0M159.3 663.0V670.7M164.3 659.6V665.4M167.3 665.1V668.5M173.3 654.9V660.5M174.3 658.1V661.5M175.3 659.3V662.7M177.3 682.9V686.3M181.3 676.4V679.8M185.3 672.3V677.3M186.3 675.8V679.2M188.3 676.4V679.8M190.3 674.5V677.9M191.3 675.7V679.1M194.3 670.7V674.1M197.3 654.0V657.4M198.3 656.4V666.4M199.3 666.4V670.1M200.3 669.1V672.5M201.3 669.8V673.2M205.3 622.5V625.9M206.3 622.9V630.1M208.3 628.2V631.6M209.3 629.4V633.7M214.3 598.0V602.3M215.3 600.9V604.3M216.3 603.0V606.4M218.3 601.8V605.2M219.3 603.3V606.7M222.3 603.3V606.7M223.3 605.7V610.3M224.3 609.5V612.9M225.3 612.1V615.6M226.3 615.6V623.5M227.3 623.5V631.6M231.3 613.8V617.5M232.3 617.5V623.5M233.3 622.3V625.7M234.3 623.5V626.9M235.3 624.7V630.3M237.3 630.7V634.6M238.3 634.5V637.9M239.3 637.7V641.4M240.3 641.4V649.2M241.3 648.6V653.9M242.3 653.2V656.6M243.3 656.0V659.8M244.3 659.8V667.2M245.3 666.0V671.2M253.3 593.5V596.9M254.3 592.4V595.8M255.3 591.9V595.3M256.4 591.0V597.1M257.4 597.1V609.5M258.4 609.5V619.7M259.4 618.4V621.8M263.4 612.3V615.7M264.4 613.1V616.5M265.4 613.6V617.0M268.4 607.9V615.6M273.4 583.1V598.9M278.4 586.7V590.1M279.4 587.7V593.9M280.4 593.0V598.1M281.4 595.9V599.8M288.4 556.2V560.1M289.4 559.3V566.5M290.4 565.6V569.0M291.4 567.9V573.2M293.4 572.2V576.0M297.4 564.1V568.1M298.4 568.1V574.9M302.4 560.8V570.9M303.4 570.9V574.3M304.4 573.3V576.7M305.4 575.2V578.6M311.4 564.3V568.3M312.4 568.3V572.4M313.4 572.4V578.4M314.4 578.4V585.0M319.4 558.3V561.7M320.4 558.6V562.0M321.4 558.6V562.0M322.4 560.0V563.4M329.4 528.1V535.0M330.4 535.0V541.8M331.4 541.8V547.2M333.4 545.7V551.3M334.4 549.8V553.2M335.4 551.7V555.8M339.4 544.7V549.2M340.4 548.9V552.3M341.4 552.0V559.4M347.4 539.5V542.9M348.4 541.1V544.5M350.4 540.6V544.0M351.4 541.6V545.0M353.4 542.8V546.2M357.4 529.6V541.0M358.4 540.3V543.7M359.4 543.1V546.5M360.4 544.8V548.2M361.4 546.5V550.4M363.4 547.6V551.0M367.4 541.8V545.2M369.4 540.7V546.6M371.4 545.3V556.8M372.4 556.8V569.6M373.4 569.6V581.4M374.4 581.4V591.3M375.4 591.3V596.1M377.4 593.6V597.0M380.4 593.5V596.9M381.4 595.9V599.3M382.4 598.9V602.3M383.4 601.3V604.7M384.4 602.5V605.9M391.4 580.8V584.2M393.4 578.5V581.9M395.4 580.4V583.8M396.4 582.2V590.2M397.4 590.2V595.7M398.4 595.7V600.0M399.4 598.2V604.1M400.4 603.3V606.7M401.4 605.3V608.7M403.4 605.5V609.0M404.4 608.2V611.8M406.4 606.7V610.1M413.4 586.0V601.8M414.4 601.8V611.2M415.4 611.2V621.0M416.4 618.6V622.0M417.4 619.6V623.0M419.4 620.9V624.3M421.4 621.6V625.1M422.4 623.3V626.7M423.4 624.0V627.7M424.4 626.9V630.3M425.4 628.9V632.3M426.4 631.2V637.3M427.4 636.0V642.2M429.4 640.3V643.7M436.4 637.5V641.0M437.4 638.8V642.2M440.4 637.4V640.8M441.4 639.2V642.6M442.4 640.8V644.2M449.4 605.9V609.3M450.4 607.4V611.7M451.4 608.7V612.1M453.4 606.4V609.8M455.4 607.7V611.1M456.4 610.1V617.5M457.4 617.5V629.5M458.4 629.5V640.8M468.4 606.9V610.3M469.4 609.4V613.8M470.4 612.3V621.8M471.4 621.8V625.6M472.4 625.1V628.5M475.4 622.0V625.4M476.4 622.6V626.0M479.4 619.4V622.9M486.4 606.5V612.9M487.4 612.9V618.9M492.4 604.4V607.8M493.4 605.1V608.7M495.4 606.7V611.0M496.4 609.8V613.2M498.4 610.7V616.6M499.4 616.6V623.1M500.4 623.1V630.7M501.4 628.5V631.9M506.4 624.4V627.8M507.4 624.9V628.3M510.4 624.4V628.6M511.4 626.5V630.9M512.4 629.0V633.2M513.4 631.3V635.5M514.4 632.9V637.7M515.4 636.6V640.0M521.4 623.1V626.5M522.4 624.2V627.6M523.4 624.6V629.9M524.4 629.6V633.0M525.4 631.8V635.2M526.4 634.4V638.3M527.4 638.3V642.0M528.4 640.8V644.2M529.4 640.9V644.3M532.4 639.9V643.3M533.4 641.2V644.6M535.4 585.1V588.5M536.4 585.7V589.1M537.4 587.3V591.3M539.4 589.3V596.7M540.4 595.5V599.1M541.4 598.3V601.7M542.4 600.3V603.7M547.4 589.7V593.1M548.4 590.4V593.8M551.4 588.1V591.5M555.4 585.9V591.6M556.4 590.6V594.0M557.4 593.1V596.5M559.4 594.8V598.2M561.4 596.2V599.7M562.4 596.3V600.4M563.4 597.9V601.3M566.4 597.0V600.4M568.4 596.3V600.0M569.4 600.0V607.8M570.4 607.8V611.6M571.4 611.6V617.4M572.4 617.4V622.4M573.4 621.5V624.9M577.4 618.4V621.8M579.4 618.5V621.9M580.4 619.5V622.9M581.4 621.8V627.4M583.4 626.8V630.2M589.4 608.1V612.0M590.4 611.0V616.4M591.4 615.3V618.7M592.4 615.6V619.0M596.4 613.9V618.6M597.4 618.6V622.6M601.4 575.9V579.3M602.4 577.4V580.8M603.4 578.3V581.7M604.4 579.6V583.0M606.4 580.9V585.7M611.4 577.7V584.3M612.4 584.3V589.4M613.4 589.4V596.2M617.4 565.6V569.0M619.4 567.9V571.4M620.4 569.3V573.2M622.4 570.3V574.0M625.4 568.8V572.2M629.4 558.7V563.5M630.4 563.5V571.9M631.4 571.9V576.0M632.4 574.1V577.5M633.4 575.5V578.9M638.4 571.4V575.6M640.4 573.1V576.5M641.4 573.2V576.6M642.4 575.1V579.5M643.4 579.5V588.4M644.4 588.4V592.9M645.4 592.9V598.2M646.4 597.8V601.2M647.4 600.2V603.6M648.4 601.8V605.2M649.4 603.1V606.5M651.4 603.7V607.1M653.4 601.5V604.9M654.4 601.2V604.6M660.4 586.5V589.9M661.4 589.5V596.9M662.4 596.9V605.9M663.4 605.7V609.2M664.4 606.7V610.1M666.4 607.0V610.4M675.4 573.1V576.5M677.4 573.9V577.3M687.4 553.7V564.8M688.4 564.8V575.6M700.4 548.7V553.3M701.4 553.3V557.2M702.4 556.9V565.6M703.4 564.8V568.2M705.4 565.5V569.1M706.4 566.5V570.0M707.4 567.7V571.7M708.4 570.0V573.4M713.4 561.6V565.0M714.4 564.6V578.6M715.4 578.6V587.1M716.4 587.1V595.4M717.4 595.4V602.4M718.4 602.4V605.9M721.4 601.1V604.5M722.4 603.1V606.5M725.4 602.5V606.0M727.4 604.0V608.3M729.4 605.5V608.9M731.4 605.9V609.5M735.4 600.1V604.3M736.4 602.2V605.6M738.4 604.4V607.8M740.4 604.7V608.1M744.4 601.5V608.4M745.4 608.4V616.9M746.4 616.9V622.7M747.4 622.7V630.5M748.4 629.6V633.0M751.4 627.4V630.8M752.4 629.5V632.9M755.4 625.9V629.4M757.4 626.0V629.6M758.4 628.5V632.4M759.4 632.0V638.0M760.4 638.0V642.0M763.4 620.3V627.7M764.4 626.2V631.9M765.4 631.5V634.9M766.4 633.0V636.4M767.4 634.0V637.5M769.4 634.9V638.3M771.4 637.2V640.6M772.4 637.5V640.9M783.4 605.3V608.7M784.4 605.7V609.1M786.4 602.2V605.6M789.4 600.6V605.8M790.4 605.8V614.3M796.4 597.4V600.8M797.4 599.6V604.0M798.4 603.8V607.2M799.4 605.8V609.2M800.4 607.9V612.4M802.4 604.9V608.3M807.4 526.6V530.0M810.4 527.6V531.0M811.4 530.5V533.9M820.4 496.8V500.2M821.4 497.2V500.6M823.4 496.3V499.7M824.4 497.6V501.0M826.4 498.7V503.4M828.4 500.0V503.4M838.4 473.8V477.8M839.4 475.8V479.2M840.4 477.3V480.7M841.4 480.0V483.4M843.4 479.4V482.8M844.4 482.1V490.0M845.4 490.0V505.2M846.4 505.2V519.5M847.4 518.7V522.1M848.4 521.3V525.7M849.4 525.7V531.6M852.4 528.8V532.2M853.4 530.0V533.4M856.4 527.9V531.3M859.4 529.5V533.0M864.4 525.6V529.5M868.4 523.9V527.4M870.4 527.5V532.0M871.4 530.0V533.9M872.4 533.9V540.6M873.4 540.6V547.9M874.4 546.2V549.8M875.4 548.8V552.2M885.4 536.1V539.5M886.4 538.0V544.3M887.4 544.3V551.6M893.4 503.6V507.0M900.4 491.9V495.3M902.4 495.2V505.0M903.4 505.0V514.2M904.4 514.0V517.9M905.4 517.9V524.1M906.4 524.1V531.0M907.4 531.0V537.5M908.4 536.4V539.9M911.4 537.5V541.4M912.4 538.9V544.0M914.4 543.3V546.7M915.4 544.8V548.2M916.4 545.6V549.0M917.4 546.5V549.9M919.4 546.4V549.8M928.4 530.9V534.3M929.4 531.0V534.4M935.4 506.3V509.7M936.4 507.4V510.8M937.4 509.0V512.4M938.4 511.0V514.4M939.4 512.3V515.7M949.4 464.9V468.6M951.4 464.7V468.1M953.4 464.6V468.0M955.4 464.5V471.0M956.4 470.1V473.8M963.4 434.3V442.3M964.4 442.3V448.7M965.4 448.7V452.9M966.4 452.6V456.0M967.4 454.8V458.2M968.4 457.2V460.6M969.4 460.6V464.0M970.4 462.7V466.1M971.4 465.3V468.7M977.4 442.8V446.2M979.4 443.5V446.9M981.4 443.9V447.3M982.4 444.5V448.8M983.4 446.9V450.3M984.4 447.8V451.2M989.4 430.6V436.3M990.4 436.3V446.3M991.4 446.3V451.4M992.4 451.4V459.4M994.4 455.2V458.6M995.4 456.6V460.0M1000.4 453.2V457.0M1011.4 402.0V405.4M1013.4 404.8V409.5M1014.4 409.5V412.9M1016.4 411.6V416.0M1017.4 414.3V419.0M1019.4 419.5V424.9M1020.4 424.9V429.2M1021.4 429.2V434.8M1022.4 434.7V438.1M1023.4 436.8V440.2M1035.3 385.4V390.7M1036.3 388.3V392.0M1039.3 390.8V395.8M1040.3 393.3V397.0M1043.3 396.1V400.6M1045.3 400.3V403.7M1046.3 401.7V405.1M1048.3 401.2V404.6M1051.3 398.5V401.9M1052.3 400.6V404.0M1054.3 398.6V402.0M1056.3 395.5V398.9M1058.3 392.6V396.0M1065.3 369.4V374.8M1067.3 373.6V377.9M1068.3 376.2V379.6M1070.3 378.8V382.2M1071.3 380.1V383.5M1072.3 380.3V383.7M1079.3 342.8V346.2M1082.3 340.0V343.4M1083.3 341.2V344.6M1085.3 340.8V344.2M1086.3 341.1V344.5M1087.3 343.2V346.6M1097.3 284.8V288.2M1099.3 283.5V286.9M1101.3 284.1V288.1M1109.3 253.1V256.5M1111.3 251.2V257.3M1117.3 241.9V245.3M1118.3 245.1V258.4M1119.3 258.4V271.5M1120.3 271.5V280.3M1121.3 280.3V285.7M1122.3 284.6V288.2M1123.3 287.0V293.8M1124.3 292.3V295.7M1125.3 293.7V297.1M1126.3 295.7V301.0M1128.3 298.8V302.2M1130.3 300.2V303.6M1131.3 300.5V305.5M1136.3 238.3V241.7M1137.3 239.1V242.5M1138.3 240.1V243.5M1139.3 241.6V245.0M1141.3 240.1V243.5M1148.3 216.8V242.0M1149.3 242.0V266.7M1150.3 266.7V285.9M1152.3 285.2V289.6M1153.3 287.5V291.9M1158.3 274.0V280.4M1159.3 280.4V291.8M1160.3 291.8V308.1M1161.3 308.1V314.4M1162.3 314.4V320.8M1163.3 320.8V326.3M1164.3 326.3V332.3M1165.3 332.3V338.8M1166.3 338.8V344.4M1168.3 256.0V259.4M1178.3 227.7V231.1M1179.3 230.2V237.3M1180.3 236.3V242.1M1182.3 241.1V244.7M1183.3 244.7V248.1M1184.3 247.7V251.1M1185.3 250.3V254.2M1186.3 251.3V257.6M1194.3 225.9V229.3M1195.3 227.0V230.4M1196.3 228.5V231.9M1197.3 229.6V233.0M1199.3 232.0V236.9M1200.3 233.0V242.0M1201.3 242.0V248.2M1202.3 248.2V259.3M1203.3 259.3V266.3M1204.3 266.3V275.6M1205.3 275.6V281.3M1206.3 278.2V282.5M1207.3 280.2V283.8M1209.3 280.5V286.0M1210.3 284.7V288.1M1211.3 285.1V288.5M1213.3 283.2V288.5M1214.3 282.6V288.0M1216.3 283.5V289.2M1217.3 289.2V296.2M1218.3 296.2V305.2M1219.3 305.2V314.6M1220.3 313.9V317.3M1221.3 315.5V318.9M1222.3 317.0V320.4M1223.3 318.9V322.3M1224.3 321.0V324.4M1225.3 322.4V325.8M1226.3 323.7V327.1M1227.3 325.4V329.5M1229.3 324.9V328.3M1230.3 326.4V331.8M1231.3 329.1V332.7M1240.3 265.5V270.2M1241.3 270.2V274.7M1242.3 273.5V276.9M1243.3 275.0V282.1M1251.3 249.4V253.6M1253.3 252.5V255.9M1254.3 253.6V257.0M1255.3 254.1V257.5M1256.3 255.9V261.5M1260.3 248.5V256.7M1261.3 256.7V277.4M1262.3 277.4V292.0M1263.3 292.0V307.9M1264.3 307.9V314.1M1269.3 292.9V296.3M1270.3 293.8V297.2M1272.3 291.0V296.1M1278.3 252.5V257.8M1280.3 253.5V260.9M1282.3 254.6V258.0M1284.3 254.9V260.2M1285.3 259.3V262.7M1290.3 218.2V221.6M1291.3 220.8V229.2M1292.3 227.0V230.4M1293.3 227.7V231.1M1299.3 222.3V226.4M1300.3 225.8V229.2M1301.3 227.7V231.1M1307.3 184.7V188.9M1312.3 169.8V175.7M1314.3 173.2V178.0M1315.3 177.3V180.7M1319.3 142.7V155.7M1320.3 155.7V176.4M1321.3 176.4V190.0M1327.3 158.3V163.1M1332.3 142.0V147.1M1333.3 146.9V151.9M1334.3 151.9V157.7M1337.3 116.0V120.0M1338.3 120.0V124.2M1339.3 124.2V127.9M1341.3 126.2V132.8M1343.3 129.3V136.0M1344.3 134.6V138.0M1345.3 136.4V139.8M1346.3 139.0V142.4M1347.3 141.8V147.3M1348.3 147.2V155.9M1350.3 154.4V158.0M1351.3 156.7V163.9M1354.3 160.5V165.9M1359.3 141.5V149.5M1360.3 149.5V159.9M1361.3 159.9V177.1M1362.3 177.1V184.6M1363.3 184.6V188.1M1364.3 188.1V193.2M1365.3 192.6V197.8M1367.3 194.8V198.2M1371.3 189.1V192.5M1376.3 175.4V188.4M1377.3 188.4V199.0M1378.3 199.0V204.5M1379.3 204.5V214.8M1381.3 233.8V237.2M1383.3 232.3V235.7M1384.3 231.8V235.2M1387.3 228.7V232.3M1388.3 229.4V232.8M1389.3 231.5V239.1M1390.3 239.1V245.4M1391.3 245.4V250.6M1392.3 247.0V251.3M1394.3 244.4V247.8M1395.3 243.9V247.3M1399.3 234.8V238.2M1402.3 232.2V235.8M1403.3 234.1V237.5M1407.3 204.2V207.6M1413.3 192.5V196.8M1414.3 195.3V198.7M1415.3 195.7V199.2M1416.3 195.7V200.3M1417.3 198.3V206.7M1418.3 205.2V208.6M1419.3 207.2V211.1M1420.3 210.0V213.4M1425.3 189.0V194.9M1426.3 194.9V202.6M1427.3 202.3V207.9M1428.3 206.8V210.2M1429.3 209.0V216.2M1430.3 216.1V219.5M1431.3 219.5V226.3M1432.3 226.3V237.9M1433.3 237.9V250.3M1434.3 250.3V257.2M1435.3 257.2V261.4M1436.3 261.0V265.5M1437.3 263.9V267.3M1440.3 262.7V267.0M1441.3 263.3V270.7M1442.3 267.7V278.2M1443.3 278.1V282.9M1447.3 258.2V265.8M1448.3 265.8V272.4M1449.3 271.5V274.9M1451.3 269.3V273.8M1453.3 234.9V238.3M1457.3 229.2V232.7M1459.3 232.0V235.4M1460.3 233.6V237.6M1465.3 185.3V191.4M1467.3 189.4V194.5M1468.3 193.3V196.7M1469.3 194.9V198.3M1470.3 194.2V198.9M1474.3 191.0V200.4M1475.3 200.4V214.9M1476.3 214.0V218.9M1478.3 219.2V226.7M1480.3 225.0V231.4M1482.3 223.0V227.4M1485.3 220.8V230.3M1487.3 227.0V231.2M1488.3 229.7V236.1M1490.3 236.4V243.2M1491.3 239.9V248.9M1492.3 248.9V256.8M1493.3 256.1V259.5M1494.3 258.6V264.0M1495.3 259.7V263.1M1496.3 261.1V264.9M1499.3 256.7V261.0M1503.3 252.6V256.9M1504.3 256.9V273.8M1505.3 273.8V279.9M1508.3 273.3V280.9M1513.3 268.8V272.4M1514.3 267.9V273.4M1517.3 262.0V267.2M1518.3 267.2V280.7M1519.3 280.7V291.3M1520.3 291.3V300.0M1521.3 300.0V308.1M1522.3 306.6V310.5M1523.3 309.8V313.2M1524.3 312.5V316.3M1526.3 315.3V318.7M1527.3 316.8V321.6M1528.3 319.0V323.6M1530.3 319.7V323.1M1532.3 319.6V323.0M1533.3 322.2V336.9M1534.3 336.9V348.1M1321.3 178.0V216.0M198.3 642.0V668.0" stroke="#e9604f" stroke-width="1.5" fill="none"/>
<path d="M0.7 475.9V479.3M2.6 469.9V475.4M3.6 467.4V472.0M5.7 464.7V468.9M6.7 463.2V467.4M7.7 462.8V466.2M16.6 506.0V509.4M17.6 503.9V507.8M18.6 501.4V505.8M19.6 499.0V504.8M20.6 498.1V501.8M21.6 497.8V501.8M23.6 497.2V500.6M25.6 497.6V501.0M26.6 496.5V499.9M27.6 493.6V498.6M28.6 490.8V494.2M29.6 489.5V492.9M30.6 488.1V491.5M31.6 486.1V489.5M32.6 483.4V486.8M34.6 485.7V490.3M35.6 486.5V492.5M38.6 485.3V490.9M39.6 484.9V488.3M43.6 500.4V503.8M45.6 499.9V503.6M46.6 498.4V501.8M47.6 497.8V501.2M48.6 494.7V500.2M49.6 491.8V495.2M52.6 489.4V493.4M53.6 487.0V490.4M59.6 518.0V521.4M62.6 518.1V521.5M63.6 517.7V521.3M64.7 517.0V520.4M65.7 515.8V519.3M67.7 514.4V517.8M68.7 512.4V516.0M69.7 509.0V512.4M73.7 531.4V536.2M74.7 529.2V532.8M76.7 529.9V533.3M79.7 530.1V533.9M80.7 527.2V533.1M81.7 525.8V529.2M82.7 524.5V527.9M83.7 521.9V525.7M95.7 578.2V581.6M97.7 576.1V581.4M98.7 567.3V576.1M99.7 564.1V567.5M101.7 568.7V572.1M104.7 591.2V594.6M106.7 589.5V592.9M107.7 588.7V592.1M109.7 586.6V590.0M110.7 580.2V587.2M112.7 576.7V580.1M113.7 572.1V577.5M119.7 605.2V608.6M120.7 603.8V607.2M122.7 603.5V607.6M123.7 601.1V604.5M124.7 599.1V602.5M126.7 600.5V603.9M129.7 636.0V639.4M130.7 634.0V637.4M132.7 633.5V636.9M135.7 633.8V637.2M137.7 633.1V636.5M138.7 633.1V636.5M146.7 658.6V663.9M149.7 655.7V659.2M150.7 652.8V656.2M154.7 648.0V653.2M155.7 647.5V650.9M160.7 666.5V670.3M161.7 664.5V667.9M162.7 662.1V665.8M163.7 659.6V664.2M165.7 663.2V666.6M166.7 663.9V667.3M168.7 667.1V670.5M169.7 662.3V668.0M170.7 659.8V663.2M171.7 657.8V661.2M172.7 654.9V659.1M178.7 680.8V684.2M179.7 678.1V681.5M180.7 675.9V679.3M182.7 676.8V680.2M183.7 674.4V678.8M184.7 672.3V676.5M187.7 676.0V679.4M189.7 674.6V679.2M192.7 674.7V678.1M193.7 671.6V675.6M195.7 667.9V672.0M196.7 656.2V667.9M202.7 625.7V672.7M203.7 623.4V626.8M204.7 622.3V625.7M207.7 628.0V631.4M210.7 627.2V633.7M211.7 621.2V627.2M212.7 605.1V621.2M213.7 598.0V605.1M217.7 602.5V606.0M220.7 604.1V607.5M221.7 603.8V607.2M228.7 631.5V636.2M229.7 618.8V631.5M230.7 613.3V618.8M236.7 629.0V632.4M246.7 668.3V671.7M247.7 603.3V606.7M248.7 601.9V605.3M249.7 600.2V603.6M250.7 599.3V602.7M251.7 597.7V601.1M252.7 595.1V598.5M260.6 614.2V619.4M261.6 611.3V614.7M262.6 611.5V614.9M266.6 610.2V615.2M267.6 607.0V610.4M269.6 611.3V622.5M270.6 587.1V611.3M271.6 584.1V587.5M272.6 581.6V585.0M274.6 594.1V598.9M275.6 591.0V594.4M276.6 587.8V591.3M277.6 586.4V589.8M282.6 588.1V599.8M283.6 579.2V588.1M284.6 572.2V579.2M285.6 567.2V572.2M286.6 563.7V567.2M287.6 556.2V563.7M292.6 570.5V573.9M294.6 572.3V576.0M295.6 569.6V573.0M296.6 564.1V569.8M299.6 572.4V579.0M300.6 562.0V572.4M301.6 560.3V563.7M306.6 573.4V578.0M307.6 570.2V574.1M308.6 568.3V571.7M309.6 565.4V568.8M310.6 563.7V567.1M315.6 581.9V585.3M316.6 579.2V582.6M317.6 576.4V579.8M323.6 560.8V564.2M324.6 560.7V564.1M325.6 549.5V562.5M326.6 541.7V549.5M327.6 534.3V541.7M328.6 528.1V534.3M332.6 544.8V548.2M336.6 551.4V555.8M337.6 546.7V551.4M338.6 544.4V547.8M342.6 556.5V559.9M343.6 554.2V557.6M344.6 549.9V554.4M345.6 540.0V549.9M346.6 537.7V541.1M349.6 541.2V544.6M352.6 542.4V545.8M354.6 539.3V545.1M355.6 534.6V539.3M356.6 529.6V534.6M362.6 547.2V550.6M364.6 547.4V550.9M365.6 544.3V547.7M366.6 542.3V545.7M368.6 540.1V544.7M370.6 543.6V547.0M376.6 593.8V597.2M378.6 593.8V597.2M379.6 593.6V597.0M385.6 599.4V604.5M386.6 593.8V599.4M387.6 588.0V593.8M388.6 585.4V589.4M389.6 582.9V586.3M390.6 581.3V584.7M392.6 579.0V583.5M394.6 579.7V583.1M402.6 605.4V608.8M405.6 607.5V611.8M407.6 604.0V608.8M408.6 600.9V605.2M409.6 598.6V603.1M410.6 595.7V601.0M411.6 592.9V596.3M412.6 586.0V593.5M418.6 620.0V623.4M420.6 620.8V624.2M428.6 638.9V642.3M430.6 640.6V644.0M431.6 640.0V643.4M432.6 638.9V642.3M433.6 638.2V641.6M434.6 637.5V640.9M435.6 636.9V640.3M438.6 638.6V642.0M439.6 638.0V641.4M443.6 632.6V642.2M444.6 618.3V632.6M445.6 611.9V618.3M446.6 606.0V611.9M447.6 606.3V609.7M448.6 605.4V608.8M452.6 607.5V612.0M454.6 606.7V610.1M459.6 640.2V643.6M460.6 631.4V641.5M461.6 626.3V631.4M462.6 621.0V626.3M463.6 614.6V621.0M464.6 612.2V615.6M465.6 610.5V613.9M466.6 608.4V611.8M467.6 607.4V610.8M473.6 624.5V627.9M474.6 622.4V625.8M477.6 622.1V625.6M478.6 619.1V622.5M480.6 620.0V623.4M481.6 617.5V621.1M482.6 615.3V618.7M483.6 610.2V616.8M484.6 607.2V610.6M485.6 605.1V608.5M488.6 615.1V618.9M489.6 612.5V615.9M490.6 607.5V614.3M491.6 604.6V608.2M494.6 606.6V610.0M497.6 610.1V613.5M502.6 627.8V631.2M503.6 627.1V630.5M504.6 625.0V629.4M505.6 624.1V627.5M508.6 624.7V628.1M509.6 623.7V627.1M516.6 634.1V637.5M517.6 631.8V635.2M518.6 628.6V632.5M519.6 626.9V630.3M520.6 624.5V627.9M530.6 640.7V644.1M531.6 640.4V643.8M534.6 585.0V588.4M538.6 588.0V591.4M543.6 594.3V603.2M544.6 591.4V594.8M545.6 589.3V592.7M546.6 588.6V592.0M549.6 590.6V594.0M550.6 589.9V593.3M552.6 586.8V590.2M553.6 585.0V588.4M554.6 583.0V586.7M558.6 594.4V597.8M560.6 595.8V599.2M564.6 597.6V602.0M565.6 597.3V601.0M567.6 595.9V599.3M574.6 620.5V624.0M575.6 619.0V622.6M576.6 618.5V622.0M578.6 618.6V622.0M582.6 625.1V628.5M584.6 620.4V629.2M585.6 613.6V620.4M586.6 608.8V613.6M587.6 606.2V609.6M588.6 607.1V610.5M593.6 614.0V618.0M594.6 612.9V616.3M595.6 612.6V616.0M598.6 610.0V622.6M599.6 588.8V610.0M600.6 575.0V588.8M605.6 580.0V583.4M607.6 582.1V585.7M608.6 579.3V582.7M609.6 578.7V582.1M610.6 577.1V580.5M614.6 590.7V597.0M615.6 573.4V590.7M616.6 566.0V573.4M618.6 567.1V570.5M621.6 570.3V575.0M623.6 571.0V574.4M624.6 569.8V573.2M626.6 567.8V571.2M627.6 565.3V568.7M628.6 560.7V565.7M634.6 575.4V578.8M635.6 572.1V576.6M636.6 571.8V575.2M637.6 571.4V575.2M639.6 573.1V576.5M650.6 603.2V606.6M652.6 602.6V606.0M655.6 600.7V604.1M656.6 598.6V602.0M657.6 593.9V598.9M658.6 590.8V594.2M659.6 587.7V591.1M665.6 606.9V610.3M667.6 605.5V608.9M668.6 604.0V607.4M669.6 600.6V606.2M670.6 597.5V600.9M671.6 587.4V597.8M672.6 582.1V587.4M673.6 576.0V582.1M674.6 574.1V579.9M676.6 573.1V576.5M678.6 573.4V577.2M679.6 572.0V575.4M680.6 571.2V574.6M681.6 568.3V572.5M682.6 563.0V568.3M683.6 559.0V563.9M684.6 557.7V561.1M685.6 556.0V559.4M686.6 553.7V557.2M689.6 570.9V575.6M690.6 566.8V570.9M691.6 563.5V566.9M692.6 560.6V564.0M693.6 559.0V562.8M694.6 557.0V560.8M695.6 555.0V559.0M696.6 550.9V555.0M697.6 549.0V552.4M698.6 547.7V551.1M699.6 545.0V548.7M704.6 565.2V568.6M709.6 568.0V572.1M710.6 566.7V570.1M711.6 565.9V569.3M712.6 562.0V568.2M719.6 603.5V606.9M720.6 601.1V604.7M723.6 603.1V606.5M724.6 601.5V604.9M726.6 603.3V606.7M728.6 605.4V608.8M730.6 605.2V608.6M732.6 604.3V609.5M733.6 600.8V604.7M734.6 599.6V603.0M737.6 603.0V606.4M739.6 605.0V608.4M741.6 603.1V606.5M742.6 601.3V604.7M743.6 600.2V603.6M749.6 629.2V632.6M750.6 627.7V631.1M753.6 628.9V632.8M754.6 625.9V629.6M756.6 625.9V629.3M761.6 636.2V642.0M762.6 623.9V636.2M768.6 634.6V638.0M770.6 635.9V639.3M773.6 637.4V640.8M774.6 632.5V638.2M775.6 629.6V633.0M776.6 624.8V630.0M777.6 621.1V624.8M778.6 618.0V621.4M779.6 615.2V618.6M780.6 612.1V615.5M781.6 610.2V613.6M782.6 606.0V611.6M785.6 602.7V607.8M787.6 601.2V604.9M788.6 600.1V603.5M791.6 612.5V615.9M792.6 607.2V613.4M793.6 605.6V609.0M794.6 600.8V606.6M795.6 597.9V601.3M801.6 607.1V612.4M803.6 602.0V606.4M804.6 603.0V606.4M805.6 602.7V606.1M808.6 526.6V530.0M809.6 526.8V530.2M812.6 531.5V534.9M813.6 531.9V535.3M814.6 521.5V532.9M815.6 515.9V521.5M816.6 509.3V515.9M817.6 503.1V509.3M818.6 500.3V503.7M819.6 498.0V501.4M822.6 496.7V500.1M825.6 497.9V501.3M827.6 500.7V504.1M829.6 500.3V503.7M830.6 500.4V503.8M831.6 497.4V504.0M832.6 494.4V497.8M833.6 484.3V494.8M834.6 475.6V484.3M835.6 473.1V476.5M836.6 472.6V476.0M837.6 473.2V476.6M842.6 479.7V483.1M850.6 530.9V534.3M851.6 529.1V532.7M854.6 528.1V532.8M855.6 527.5V530.9M857.6 529.0V532.4M858.6 529.1V532.5M860.6 530.9V534.3M861.6 528.9V532.5M862.6 527.3V531.0M863.6 525.6V529.5M865.6 526.7V530.1M866.6 525.1V528.5M867.6 523.1V526.5M869.6 525.4V528.8M876.6 547.7V551.6M877.6 544.6V548.9M878.6 542.3V545.7M879.6 541.6V545.0M880.6 540.4V544.1M881.6 538.0V541.4M882.6 537.2V540.6M883.6 537.0V540.4M884.6 536.5V539.9M888.6 533.3V551.6M889.6 519.9V533.3M890.6 511.0V519.9M891.6 508.7V513.4M892.6 505.0V508.7M894.6 502.2V506.3M895.6 499.9V503.3M896.6 497.7V501.1M897.6 496.2V499.6M898.6 495.1V498.6M899.6 492.6V496.0M901.6 491.0V495.2M909.6 537.1V540.5M910.6 537.1V540.5M913.6 542.2V545.6M918.6 546.7V550.1M920.6 545.8V549.2M921.6 543.6V547.0M922.6 541.3V544.7M923.6 540.0V543.4M924.6 538.8V542.2M925.6 537.3V540.7M926.6 534.2V537.6M927.6 531.4V535.2M930.6 529.4V532.8M931.6 521.8V529.5M932.6 513.3V521.8M933.6 507.3V513.3M934.6 505.7V509.1M940.6 513.0V516.4M941.6 511.4V514.8M942.6 509.4V512.8M943.6 507.8V511.2M944.6 504.8V508.2M945.6 500.6V505.3M946.6 485.7V500.6M947.6 472.1V485.7M948.6 464.9V472.1M950.6 465.7V469.1M952.6 464.2V467.6M954.6 464.5V468.3M957.6 468.9V473.8M958.6 458.3V468.9M959.6 455.0V458.4M960.6 445.2V455.1M961.6 435.6V445.2M962.6 433.1V436.5M972.6 462.4V468.5M973.6 452.9V462.4M974.6 444.0V452.9M975.6 444.1V447.5M976.6 442.9V446.3M978.6 443.3V446.7M980.6 443.7V447.1M985.6 445.2V450.5M986.6 438.1V445.2M987.6 431.9V438.1M988.6 429.5V432.9M993.6 455.4V459.4M996.6 457.1V460.5M997.6 456.9V460.3M998.6 455.2V458.7M999.6 453.2V457.0M1001.6 454.1V457.5M1002.6 447.9V454.8M1003.6 440.4V447.9M1004.6 428.0V440.4M1005.6 418.1V428.0M1006.6 415.5V418.9M1007.6 413.1V416.6M1008.6 410.2V413.6M1009.6 406.5V411.4M1010.6 403.0V406.5M1012.6 403.5V406.9M1015.6 410.9V414.3M1018.6 418.3V421.7M1024.7 437.6V443.0M1025.7 435.2V440.8M1026.7 431.5V438.6M1027.7 431.5V436.4M1028.7 430.6V434.2M1029.7 428.3V432.0M1030.7 417.4V428.3M1031.7 412.1V417.4M1032.7 404.7V412.1M1033.7 393.2V404.7M1034.7 385.4V393.2M1037.7 389.4V393.2M1038.7 390.4V394.5M1041.7 394.4V398.2M1042.7 395.2V399.4M1044.7 399.4V402.8M1047.7 401.2V404.6M1049.7 400.0V404.2M1050.7 398.6V402.0M1053.7 400.0V403.4M1055.7 396.5V399.9M1057.7 393.4V396.8M1059.7 392.3V395.7M1060.7 386.1V393.2M1061.7 383.7V387.1M1062.7 376.1V384.6M1063.7 370.4V376.8M1064.7 369.0V372.4M1066.7 372.6V376.0M1069.7 376.8V380.2M1073.7 372.1V382.7M1074.7 362.5V372.1M1075.7 351.0V362.5M1076.7 345.0V351.0M1077.7 344.8V348.7M1078.7 342.7V346.1M1080.7 341.2V345.2M1081.7 340.1V343.7M1084.7 340.6V344.0M1088.7 340.2V345.5M1089.7 327.8V340.2M1090.7 310.3V327.8M1091.7 295.7V310.3M1092.7 290.4V295.7M1093.7 287.2V292.8M1094.7 286.2V291.5M1095.7 286.2V290.2M1096.7 285.1V289.0M1098.7 283.9V287.3M1100.7 283.4V286.8M1102.7 286.2V290.0M1103.7 278.4V286.2M1104.7 266.1V278.4M1105.7 263.5V266.9M1106.7 260.8V264.4M1107.7 255.7V260.8M1108.7 253.9V258.1M1110.7 251.2V255.2M1112.7 255.8V259.2M1113.7 256.8V260.2M1114.7 255.8V261.0M1115.7 252.6V256.0M1116.7 243.2V252.7M1127.7 298.4V301.8M1129.7 299.8V303.2M1132.7 290.7V305.5M1133.7 270.2V290.7M1134.7 252.0V270.2M1135.7 239.4V252.0M1140.7 240.5V244.3M1142.7 237.8V241.2M1143.7 229.7V238.6M1144.7 226.7V230.1M1145.7 222.0V227.0M1146.7 218.8V222.2M1147.7 216.3V219.7M1151.7 283.5V286.9M1154.7 288.7V292.1M1155.7 285.2V291.5M1156.7 281.2V287.1M1157.7 275.0V281.2M1167.7 255.6V259.0M1169.7 255.7V259.1M1170.7 254.4V257.8M1171.7 251.0V254.6M1172.7 247.9V253.0M1173.7 244.9V248.4M1174.7 236.9V244.9M1175.7 235.8V239.2M1176.7 230.2V235.9M1177.7 228.3V231.7M1181.7 239.4V242.8M1187.7 255.8V259.2M1188.7 250.5V256.5M1189.7 244.3V250.5M1190.7 242.0V245.4M1191.7 236.4V243.0M1192.7 233.2V236.6M1193.7 227.0V233.4M1198.7 230.1V233.5M1208.7 280.2V285.0M1212.7 283.2V289.0M1215.7 282.6V287.5M1228.7 325.9V329.5M1232.7 328.1V332.7M1233.7 321.2V328.1M1234.7 318.1V321.5M1235.7 311.1V319.4M1238.7 276.8V283.8M1239.7 265.5V276.8M1244.7 279.7V283.1M1245.7 274.0V280.7M1246.7 263.5V274.0M1247.7 259.3V263.5M1248.7 256.1V259.5M1249.7 253.4V256.8M1250.7 249.4V254.8M1252.7 251.4V254.8M1257.7 257.8V261.5M1258.7 253.9V257.8M1259.7 249.3V253.9M1265.7 309.2V312.6M1266.7 301.3V311.3M1267.7 299.6V303.0M1268.7 293.5V301.0M1271.7 291.0V296.7M1273.7 292.6V296.1M1274.7 281.5V293.3M1275.7 269.2V281.5M1276.7 262.7V269.2M1277.7 252.0V262.7M1279.7 253.0V257.8M1281.7 254.0V260.9M1283.7 254.5V257.9M1286.7 255.2V262.6M1287.7 236.7V255.2M1288.7 225.6V236.7M1289.7 216.0V225.6M1294.7 228.1V231.5M1295.7 226.7V230.1M1296.7 225.0V228.4M1297.7 223.9V227.3M1298.7 222.3V226.7M1302.7 228.6V233.5M1303.7 208.0V228.6M1304.7 195.6V208.0M1305.7 189.8V196.8M1306.7 184.7V192.5M1308.7 180.6V188.9M1309.7 172.6V180.6M1310.7 169.4V172.8M1311.7 169.4V172.8M1313.7 172.7V176.1M1316.7 176.0V180.3M1317.7 156.0V176.0M1318.7 142.9V156.0M1322.7 175.6V186.4M1323.7 165.4V175.6M1324.7 163.1V166.5M1325.7 162.6V166.0M1326.7 158.3V164.0M1328.7 160.4V163.8M1329.7 159.7V163.1M1330.7 155.0V161.2M1331.7 147.1V155.0M1335.7 139.7V157.7M1336.7 119.8V139.7M1340.7 126.2V132.2M1342.7 128.4V133.4M1349.7 154.1V157.5M1352.7 159.7V163.9M1353.7 158.9V162.3M1355.7 160.9V165.9M1356.7 155.6V162.8M1357.7 149.1V156.3M1358.7 144.8V149.1M1366.7 195.0V198.4M1368.7 194.1V197.5M1369.7 189.9V195.5M1370.7 189.6V193.3M1372.7 186.2V191.6M1373.7 182.3V186.2M1374.7 174.9V182.3M1375.7 172.5V175.9M1382.7 233.6V237.0M1385.7 228.7V233.5M1386.7 228.7V232.7M1393.7 245.3V251.3M1396.7 243.0V246.8M1397.7 238.5V246.4M1398.7 234.8V239.8M1400.7 233.3V236.7M1401.7 231.9V235.3M1404.7 224.8V236.5M1405.7 214.1V224.8M1406.7 205.9V214.1M1408.7 201.3V205.3M1409.7 198.8V202.2M1410.7 197.4V200.8M1411.7 194.3V199.0M1412.7 192.4V195.8M1421.7 202.8V213.0M1422.7 195.6V202.8M1423.7 194.6V198.0M1424.7 192.7V196.1M1438.7 264.4V267.8M1439.7 262.7V266.6M1444.7 276.0V282.9M1445.7 264.9V276.0M1446.7 258.2V264.9M1450.7 269.3V274.1M1452.7 234.2V237.6M1454.7 234.6V238.0M1455.7 233.7V237.1M1456.7 229.2V233.7M1458.7 230.4V233.8M1461.7 212.3V237.6M1462.7 202.0V212.3M1463.7 192.9V202.0M1464.7 185.3V192.9M1466.7 188.7V192.1M1471.7 192.2V198.9M1472.7 189.6V193.0M1473.7 189.0V192.4M1477.7 216.3V219.7M1479.7 222.2V227.3M1481.7 224.0V231.4M1483.7 221.4V227.4M1484.7 219.4V222.8M1486.7 226.9V230.3M1489.7 235.4V238.8M1497.7 259.6V264.9M1498.7 258.2V263.6M1500.7 254.9V261.0M1501.7 252.6V256.5M1502.7 250.3V253.7M1506.7 274.6V279.9M1507.7 273.3V276.8M1509.7 277.4V280.9M1510.7 272.5V277.4M1511.7 270.1V273.9M1512.7 268.6V272.0M1515.7 263.8V273.4M1516.7 261.6V265.0M1525.7 314.9V318.3M1529.7 319.8V323.6M1531.7 319.6V323.0M197.7 640.0V676.0M1076.7 330.0V350.0" stroke="#1fb26e" stroke-width="1.5" fill="none"/>

</g>
<rect x="1773" y="335" width="45" height="20" fill="#4a70e0"/><rect x="1773" y="344" width="4" height="1.3" fill="#dfe6fa"/>
<rect x="1773" y="517.3" width="45" height="20" fill="#565656"/><rect x="1773" y="526.2" width="4" height="1.3" fill="#ddd"/>
<g font-family="Liberation Sans, sans-serif" font-size="14.2" fill="#fff"><text x="1782.3" y="350">2.503</text><text x="1782.3" y="532.2">1.986</text></g>
<rect x="1466" y="724" width="136" height="24" fill="#565656"/><rect x="1534.6" y="724" width="1.3" height="4.5" fill="#b4b4b4"/>
<svg x="1466" y="724" width="136" height="24" overflow="hidden"><text x="4.8" y="19.2" font-family="Liberation Sans, sans-serif" font-size="14.2" word-spacing="1.6" fill="#fff">2024-07-01 17:00:00</text></svg>
<text x="948.12" y="178.2" font-family="DejaVu Sans, Liberation Sans, sans-serif" font-size="25.5" fill="#000" textLength="102.27" lengthAdjust="spacingAndGlyphs">NATGAS</text>
<rect x="4.5" y="60.5" width="15" height="15" rx="2" fill="#fff" stroke="#8c8c8c" stroke-width="1.2"/><path d="M7.3 68H16.7" stroke="#8c8c8c" stroke-width="1.4"/>
<text x="26.39" y="76.5" font-family="Liberation Sans, sans-serif" font-size="20" fill="#4d4d4d" textLength="293.62" lengthAdjust="spacingAndGlyphs">Natural Gas Futures, 60, (CFD)</text>
<path d="M324 67.2h10l-5 4.5z" fill="#c6c8ce"/>
<rect x="347" y="61.2" width="17" height="17" fill="#d9d9d9"/><ellipse cx="355.6" cy="69.7" rx="6.5" ry="4.9" fill="#fff"/><circle cx="355.6" cy="69.7" r="3.2" fill="#d9d9d9"/><circle cx="355.6" cy="69.7" r="1.5" fill="#fff"/>
<rect x="368.1" y="61.2" width="17" height="17" fill="#d9d9d9"/><path d="M375.20 65.01L375.35 63.42L377.85 63.42L378.00 65.01L378.93 65.39L380.16 64.38L381.92 66.14L380.91 67.37L381.29 68.30L382.88 68.45L382.88 70.95L381.29 71.10L380.91 72.03L381.92 73.26L380.16 75.02L378.93 74.01L378.00 74.39L377.85 75.98L375.35 75.98L375.20 74.39L374.27 74.01L373.04 75.02L371.28 73.26L372.29 72.03L371.91 71.10L370.32 70.95L370.32 68.45L371.91 68.30L372.29 67.37L371.28 66.14L373.04 64.38L374.27 65.39ZM374.20 69.70a2.40 2.40 0 1 0 4.80 0a2.40 2.40 0 1 0 -4.80 0z" fill="#fff" fill-rule="evenodd"/><circle cx="376.6" cy="69.7" r="2.4" fill="#d0d0d0"/>
<text x="394.80" y="75.3" font-family="Liberation Sans, sans-serif" font-size="16.8" fill="#4c4c4c" textLength="121.11" lengthAdjust="spacingAndGlyphs">Eröffnungskurs</text>
<text x="518.63" y="75.3" font-family="Liberation Sans, sans-serif" font-size="16.8" fill="#5c1010" textLength="44.77" lengthAdjust="spacingAndGlyphs">2.506</text>
<text x="576.01" y="75.3" font-family="Liberation Sans, sans-serif" font-size="16.8" fill="#4c4c4c" textLength="89.68" lengthAdjust="spacingAndGlyphs">Höchstkurs</text>
<text x="668.24" y="75.3" font-family="Liberation Sans, sans-serif" font-size="16.8" fill="#5c1010" textLength="45.09" lengthAdjust="spacingAndGlyphs">2.510</text>
<text x="725.51" y="75.3" font-family="Liberation Sans, sans-serif" font-size="16.8" fill="#4c4c4c" textLength="129.64" lengthAdjust="spacingAndGlyphs">niedrigster Kurs</text>
<text x="857.09" y="75.3" font-family="Liberation Sans, sans-serif" font-size="16.8" fill="#5c1010" textLength="45.04" lengthAdjust="spacingAndGlyphs">2.492</text>
<text x="914.62" y="75.3" font-family="Liberation Sans, sans-serif" font-size="16.8" fill="#4c4c4c" textLength="91.67" lengthAdjust="spacingAndGlyphs">Schlusskurs</text>
<text x="1008.96" y="75.3" font-family="Liberation Sans, sans-serif" font-size="16.8" fill="#5c1010" textLength="45.84" lengthAdjust="spacingAndGlyphs">2.505</text>
<text x="12.17" y="703.7" font-family="Liberation Sans, sans-serif" font-weight="bold" font-size="26.6" fill="#000" stroke="#000" stroke-width="0.45" textLength="114.46" lengthAdjust="spacingAndGlyphs">Investing</text>
<rect x="86" y="680" width="8.5" height="9" fill="#fff"/><path d="M88 686.6L89.4 683.2Q91.4 681.9 93.7 682.1L92.8 685.3Q90.6 686 88 686.6z" fill="#f7a11a"/>
<text x="126.53" y="703.7" font-family="Liberation Sans, sans-serif" font-size="18" fill="#444" textLength="37.60" lengthAdjust="spacingAndGlyphs">.com</text>
<g font-family="Liberation Sans, sans-serif" font-size="13"><text x="14.4" y="766.5" font-weight="bold" fill="#8b8b8d" textLength="22.6" lengthAdjust="spacingAndGlyphs">10y</text><text x="69.8" y="766.5" font-weight="bold" fill="#8b8b8d" textLength="14.8" lengthAdjust="spacingAndGlyphs">1y</text><text x="117.7" y="766.5" font-weight="bold" fill="#8b8b8d" textLength="19.3" lengthAdjust="spacingAndGlyphs">1m</text><text x="169.6" y="766.5" font-weight="bold" fill="#8b8b8d" textLength="13.0" lengthAdjust="spacingAndGlyphs">7t</text><text x="216.7" y="766.5" font-weight="bold" fill="#8b8b8d" textLength="13.4" lengthAdjust="spacingAndGlyphs">1t</text><text x="262.0" y="766.5" font-weight="bold" fill="#8b8b8d" textLength="66.2" lengthAdjust="spacingAndGlyphs">Gehe zu...</text><text x="1487.5" y="766.5" font-weight="bold" fill="#8b8b8d" textLength="56.9" lengthAdjust="spacingAndGlyphs">19:34:13</text><text x="1550.2" y="766.5" fill="#8b8b8d" textLength="48.2" lengthAdjust="spacingAndGlyphs">(UTC+2)</text><text x="1631.8" y="766.5" fill="#7e7e80" textLength="10.2" lengthAdjust="spacingAndGlyphs">%</text><text x="1674.2" y="766.5" font-weight="bold" fill="#8b8b8d" textLength="19.0" lengthAdjust="spacingAndGlyphs">log</text><text x="1726.0" y="766.5" font-weight="bold" fill="#4fbde8" textLength="29.2" lengthAdjust="spacingAndGlyphs">auto</text></g>
</svg>
</body>
</html>
